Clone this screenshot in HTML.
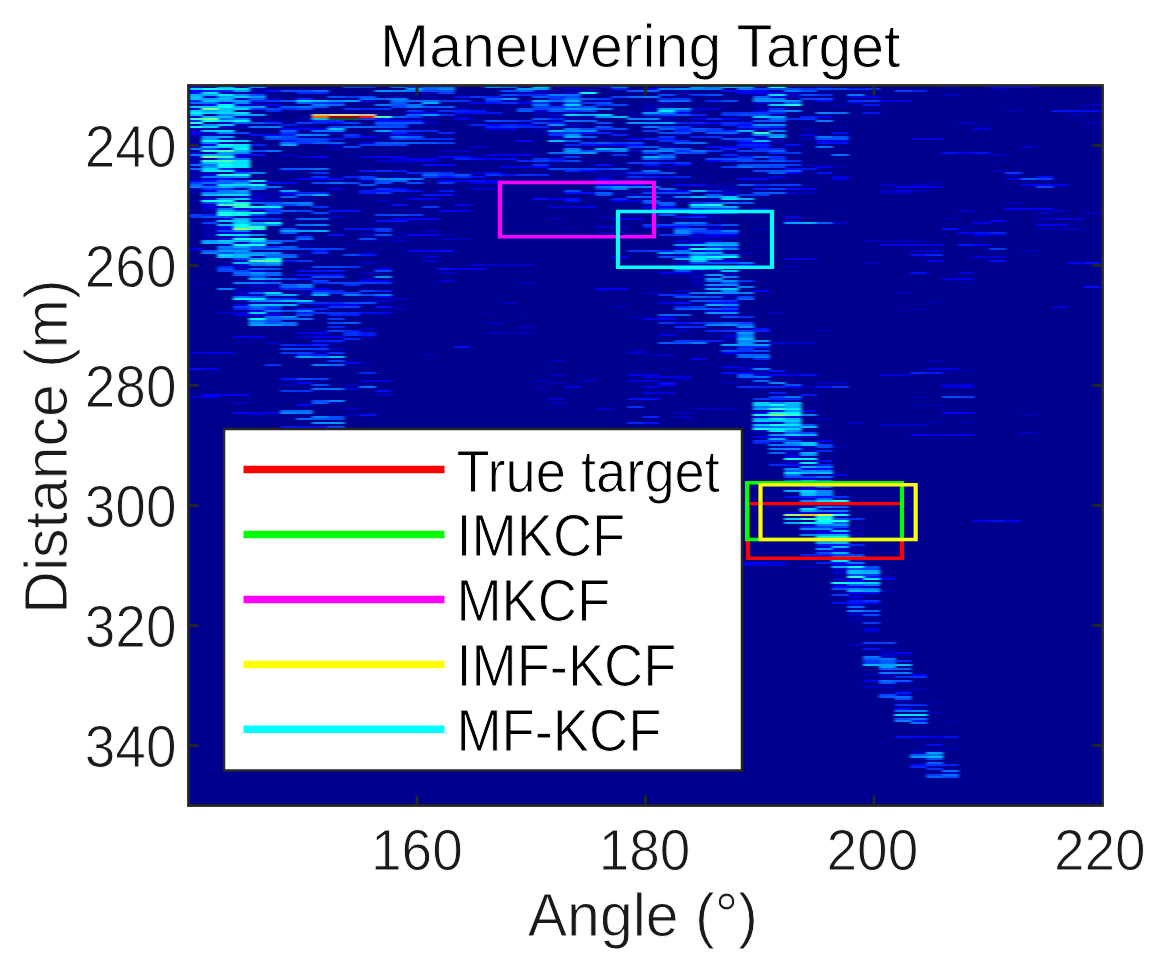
<!DOCTYPE html>
<html><head><meta charset="utf-8"><title>Maneuvering Target</title>
<style>html,body{margin:0;padding:0;background:#fff;width:1164px;height:970px;overflow:hidden}svg{display:block}</style></head>
<body>
<svg width="1164" height="970" viewBox="0 0 1164 970" font-family="Liberation Sans">
<rect width="1164" height="970" fill="#fff"/>
<defs><filter id="bl" x="0" y="0" width="1" height="1" filterUnits="objectBoundingBox"><feGaussianBlur stdDeviation="1.5 0.7"/></filter></defs>
<rect x="188.5" y="85.5" width="914" height="720" fill="rgb(0,0,143)"/>
<g filter="url(#bl)">
<rect x="188.5" y="85.5" width="914" height="720" fill="rgb(0,0,143)"/>
<path fill="rgb(0,16,255)" d="M190.0 86h12.2v2h-12.2zM722.0 90h15.8v2h-15.8zM454.2 96h15.8v2h-15.8zM485.7 102h15.8v2h-15.8zM1068.5 110h15.8v2h-15.8zM469.9 112h15.8v2h-15.8zM375.4 120h15.8v2h-15.8zM328.2 122h15.8v2h-15.8zM517.2 124h15.8v2h-15.8zM832.2 132h15.8v2h-15.8zM249.4 134h15.8v2h-15.8zM580.2 144h15.8v2h-15.8zM627.5 144h15.8v2h-15.8zM737.7 146h31.5v2h-31.5zM454.2 156h15.8v2h-15.8zM501.4 158h15.8v2h-15.8zM548.7 158h15.8v2h-15.8zM422.7 164h15.8v2h-15.8zM501.4 174h15.8v2h-15.8zM1037.0 176h15.8v2h-15.8zM328.2 178h15.8v2h-15.8zM469.9 180h15.8v2h-15.8zM391.2 188h15.8v2h-15.8zM785.0 188h15.8v2h-15.8zM406.9 190h15.8v2h-15.8zM280.9 192h15.8v2h-15.8zM533.0 198h15.8v2h-15.8zM564.5 198h15.8v2h-15.8zM391.2 204h15.8v2h-15.8zM328.2 210h31.5v2h-31.5zM674.7 216h15.8v2h-15.8zM375.4 220h15.8v2h-15.8zM343.9 228h31.5v2h-31.5zM942.5 228h15.8v2h-15.8zM974.0 232h15.8v2h-15.8zM312.4 250h15.8v2h-15.8zM911.0 254h15.8v2h-15.8zM643.2 266h15.8v2h-15.8zM296.7 270h31.5v2h-31.5zM312.4 274h31.5v2h-31.5zM1084.2 286h15.8v2h-15.8zM706.2 302h31.5v2h-31.5zM375.4 306h15.8v2h-15.8zM722.0 306h15.8v2h-15.8zM674.7 322h15.8v2h-15.8zM753.5 328h15.8v2h-15.8zM296.7 344h15.8v2h-15.8zM454.2 346h15.8v2h-15.8zM816.5 386h15.8v2h-15.8zM375.4 390h15.8v2h-15.8zM627.5 398h31.5v2h-31.5zM769.2 410h15.8v2h-15.8zM359.7 414h15.8v2h-15.8zM785.0 416h15.8v2h-15.8zM296.7 426h31.5v2h-31.5zM312.4 444h15.8v2h-15.8zM816.5 460h15.8v2h-15.8zM832.2 602h15.8v2h-15.8zM895.2 708h15.8v2h-15.8zM942.5 736h15.8v2h-15.8zM911.0 764h15.8v2h-15.8z"/>
<path fill="rgb(0,0,168)" d="M202.2 86h15.8v2h-15.8zM580.2 86h15.8v2h-15.8zM753.5 86h15.8v2h-15.8zM580.2 90h15.8v2h-15.8zM233.7 92h15.8v2h-15.8zM533.0 92h15.8v2h-15.8zM580.2 94h15.8v2h-15.8zM753.5 94h15.8v2h-15.8zM391.2 96h15.8v2h-15.8zM422.7 96h15.8v2h-15.8zM501.4 100h15.8v2h-15.8zM643.2 106h15.8v2h-15.8zM422.7 110h15.8v2h-15.8zM533.0 112h15.8v2h-15.8zM202.2 114h15.8v2h-15.8zM249.4 116h15.8v2h-15.8zM454.2 116h15.8v2h-15.8zM533.0 116h15.8v2h-15.8zM580.2 116h15.8v2h-15.8zM737.7 116h15.8v2h-15.8zM391.2 118h15.8v2h-15.8zM564.5 118h15.8v2h-15.8zM737.7 118h15.8v2h-15.8zM296.7 120h15.8v2h-15.8zM643.2 120h15.8v2h-15.8zM406.9 124h15.8v2h-15.8zM233.7 126h15.8v2h-15.8zM974.0 126h15.8v2h-15.8zM202.2 128h15.8v2h-15.8zM533.0 128h15.8v2h-15.8zM800.7 128h15.8v2h-15.8zM296.7 132h15.8v2h-15.8zM533.0 132h15.8v2h-15.8zM375.4 134h15.8v2h-15.8zM722.0 134h15.8v2h-15.8zM375.4 136h15.8v2h-15.8zM190.0 138h12.2v2h-12.2zM564.5 138h15.8v2h-15.8zM769.2 138h15.8v2h-15.8zM202.2 152h15.8v2h-15.8zM659.0 152h15.8v2h-15.8zM190.0 158h12.2v2h-12.2zM643.2 166h15.8v2h-15.8zM832.2 166h15.8v2h-15.8zM627.5 170h15.8v2h-15.8zM190.0 172h12.2v2h-12.2zM596.0 174h15.8v2h-15.8zM190.0 176h12.2v2h-12.2zM926.7 182h15.8v2h-15.8zM706.2 184h15.8v2h-15.8zM706.2 186h15.8v2h-15.8zM190.0 188h12.2v2h-12.2zM190.0 192h12.2v2h-12.2zM265.2 192h15.8v2h-15.8zM296.7 198h15.8v2h-15.8zM643.2 198h31.5v2h-31.5zM706.2 198h15.8v2h-15.8zM190.0 200h12.2v2h-12.2zM296.7 200h15.8v2h-15.8zM674.7 200h15.8v2h-15.8zM706.2 200h15.8v2h-15.8zM249.4 210h15.8v2h-15.8zM233.7 216h15.8v2h-15.8zM596.0 216h15.8v2h-15.8zM706.2 216h15.8v2h-15.8zM202.2 220h15.8v2h-15.8zM690.5 220h15.8v2h-15.8zM958.2 226h15.8v2h-15.8zM296.7 228h15.8v2h-15.8zM564.5 228h15.8v2h-15.8zM722.0 228h15.8v2h-15.8zM438.4 234h15.8v2h-15.8zM690.5 234h15.8v2h-15.8zM202.2 236h15.8v2h-15.8zM722.0 236h15.8v2h-15.8zM296.7 240h15.8v2h-15.8zM359.7 240h15.8v2h-15.8zM296.7 254h15.8v2h-15.8zM722.0 258h15.8v2h-15.8zM217.9 264h15.8v2h-15.8zM706.2 270h15.8v2h-15.8zM690.5 274h15.8v2h-15.8zM722.0 274h15.8v2h-15.8zM690.5 282h15.8v2h-15.8zM190.0 284h12.2v2h-12.2zM233.7 284h15.8v2h-15.8zM690.5 284h15.8v2h-15.8zM722.0 286h15.8v2h-15.8zM233.7 290h15.8v2h-15.8zM296.7 290h15.8v2h-15.8zM706.2 290h15.8v2h-15.8zM296.7 294h15.8v2h-15.8zM706.2 298h31.5v2h-31.5zM926.7 302h15.8v2h-15.8zM280.9 306h15.8v2h-15.8zM249.4 316h15.8v2h-15.8zM328.2 342h15.8v2h-15.8zM753.5 348h15.8v2h-15.8zM312.4 350h15.8v2h-15.8zM359.7 362h15.8v2h-15.8zM737.7 362h15.8v2h-15.8zM533.0 386h15.8v2h-15.8zM911.0 404h15.8v2h-15.8zM926.7 422h15.8v2h-15.8zM958.2 422h15.8v2h-15.8zM769.2 446h15.8v2h-15.8zM832.2 446h15.8v2h-15.8zM785.0 452h15.8v2h-15.8zM800.7 484h31.5v2h-31.5zM832.2 504h15.8v2h-15.8zM832.2 508h15.8v2h-15.8zM800.7 516h15.8v2h-15.8zM832.2 516h15.8v2h-15.8zM848.0 528h15.8v2h-15.8zM848.0 532h15.8v2h-15.8zM848.0 546h15.8v2h-15.8zM848.0 594h15.8v2h-15.8zM848.0 618h15.8v2h-15.8zM848.0 620h15.8v2h-15.8zM895.2 700h15.8v2h-15.8zM942.5 748h15.8v2h-15.8zM926.7 766h15.8v2h-15.8z"/>
<path fill="rgb(0,176,255)" d="M217.9 86h15.8v2h-15.8zM190.0 94h12.2v2h-12.2zM533.0 100h15.8v2h-15.8zM422.7 102h15.8v2h-15.8zM233.7 114h15.8v2h-15.8zM659.0 122h15.8v2h-15.8zM217.9 136h15.8v2h-15.8zM233.7 150h15.8v2h-15.8zM202.2 154h15.8v2h-15.8zM643.2 156h15.8v2h-15.8zM217.9 186h15.8v2h-15.8zM690.5 190h15.8v2h-15.8zM312.4 194h15.8v2h-15.8zM737.7 198h15.8v2h-15.8zM722.0 206h15.8v2h-15.8zM233.7 218h15.8v2h-15.8zM249.4 222h15.8v2h-15.8zM800.7 222h15.8v2h-15.8zM312.4 230h15.8v2h-15.8zM233.7 240h15.8v2h-15.8zM217.9 242h15.8v2h-15.8zM722.0 244h15.8v2h-15.8zM706.2 252h15.8v2h-15.8zM674.7 258h15.8v2h-15.8zM706.2 258h15.8v2h-15.8zM722.0 266h15.8v2h-15.8zM674.7 268h31.5v2h-31.5zM249.4 278h15.8v2h-15.8zM706.2 288h15.8v2h-15.8zM280.9 294h15.8v2h-15.8zM312.4 294h15.8v2h-15.8zM706.2 304h15.8v2h-15.8zM785.0 404h15.8v2h-15.8zM785.0 406h15.8v2h-15.8zM753.5 418h15.8v2h-15.8zM785.0 418h15.8v2h-15.8zM800.7 434h15.8v2h-15.8zM769.2 438h15.8v2h-15.8zM800.7 452h15.8v2h-15.8zM800.7 466h15.8v2h-15.8zM800.7 472h15.8v2h-15.8zM800.7 480h15.8v2h-15.8zM785.0 490h15.8v2h-15.8zM785.0 522h15.8v2h-15.8zM816.5 534h31.5v2h-31.5zM832.2 540h15.8v2h-15.8zM816.5 542h15.8v2h-15.8zM832.2 566h15.8v2h-15.8z"/>
<path fill="rgb(0,0,192)" d="M233.7 86h15.8v2h-15.8zM548.7 86h15.8v2h-15.8zM942.5 86h15.8v2h-15.8zM249.4 88h15.8v2h-15.8zM785.0 94h15.8v2h-15.8zM942.5 94h15.8v2h-15.8zM249.4 104h15.8v2h-15.8zM1084.2 104h15.8v2h-15.8zM564.5 112h15.8v2h-15.8zM659.0 116h15.8v2h-15.8zM265.2 120h15.8v2h-15.8zM422.7 122h15.8v2h-15.8zM1084.2 122h15.8v2h-15.8zM564.5 124h15.8v2h-15.8zM690.5 124h15.8v2h-15.8zM800.7 138h15.8v2h-15.8zM190.0 146h12.2v2h-12.2zM627.5 150h15.8v2h-15.8zM989.7 154h15.8v2h-15.8zM190.0 156h12.2v2h-12.2zM190.0 162h12.2v2h-12.2zM659.0 166h15.8v2h-15.8zM249.4 182h15.8v2h-15.8zM911.0 184h15.8v2h-15.8zM879.5 190h15.8v2h-15.8zM911.0 190h15.8v2h-15.8zM800.7 192h15.8v2h-15.8zM879.5 192h15.8v2h-15.8zM249.4 196h15.8v2h-15.8zM375.4 200h15.8v2h-15.8zM643.2 208h15.8v2h-15.8zM1037.0 212h15.8v2h-15.8zM690.5 214h15.8v2h-15.8zM328.2 216h15.8v2h-15.8zM1037.0 218h15.8v2h-15.8zM706.2 228h15.8v2h-15.8zM1068.5 228h15.8v2h-15.8zM596.0 232h15.8v2h-15.8zM564.5 234h15.8v2h-15.8zM627.5 234h15.8v2h-15.8zM989.7 234h15.8v2h-15.8zM438.4 238h31.5v2h-31.5zM391.2 240h15.8v2h-15.8zM863.7 240h15.8v2h-15.8zM895.2 240h15.8v2h-15.8zM217.9 244h15.8v2h-15.8zM911.0 250h15.8v2h-15.8zM1021.2 250h15.8v2h-15.8zM863.7 262h15.8v2h-15.8zM501.4 264h15.8v2h-15.8zM674.7 264h15.8v2h-15.8zM359.7 272h15.8v2h-15.8zM690.5 276h15.8v2h-15.8zM359.7 278h15.8v2h-15.8zM517.2 282h15.8v2h-15.8zM249.4 290h15.8v2h-15.8zM674.7 290h15.8v2h-15.8zM233.7 292h15.8v2h-15.8zM643.2 292h15.8v2h-15.8zM233.7 294h31.5v2h-31.5zM391.2 298h15.8v2h-15.8zM233.7 300h15.8v2h-15.8zM359.7 300h15.8v2h-15.8zM249.4 302h15.8v2h-15.8zM265.2 312h15.8v2h-15.8zM659.0 316h15.8v2h-15.8zM485.7 322h15.8v2h-15.8zM674.7 330h15.8v2h-15.8zM517.2 332h15.8v2h-15.8zM722.0 334h15.8v2h-15.8zM737.7 368h15.8v2h-15.8zM674.7 378h15.8v2h-15.8zM533.0 380h15.8v2h-15.8zM580.2 380h15.8v2h-15.8zM816.5 382h15.8v2h-15.8zM343.9 384h15.8v2h-15.8zM233.7 402h15.8v2h-15.8zM548.7 402h15.8v2h-15.8zM343.9 408h15.8v2h-15.8zM722.0 408h15.8v2h-15.8zM674.7 412h15.8v2h-15.8zM249.4 414h15.8v2h-15.8zM674.7 416h15.8v2h-15.8zM816.5 418h15.8v2h-15.8zM753.5 430h15.8v2h-15.8zM1021.2 432h15.8v2h-15.8zM627.5 438h15.8v2h-15.8zM596.0 440h15.8v2h-15.8zM800.7 440h15.8v2h-15.8zM659.0 446h15.8v2h-15.8zM800.7 446h15.8v2h-15.8zM785.0 450h15.8v2h-15.8zM848.0 560h15.8v2h-15.8zM832.2 580h15.8v2h-15.8zM832.2 584h15.8v2h-15.8zM848.0 614h15.8v2h-15.8zM848.0 644h15.8v2h-15.8zM879.5 656h15.8v2h-15.8zM895.2 682h15.8v2h-15.8zM863.7 686h31.5v2h-31.5zM895.2 694h15.8v2h-15.8z"/>
<path fill="rgb(0,144,255)" d="M249.4 86h15.8v2h-15.8zM674.7 88h15.8v2h-15.8zM375.4 90h15.8v2h-15.8zM233.7 94h15.8v2h-15.8zM328.2 100h15.8v2h-15.8zM753.5 100h15.8v2h-15.8zM785.0 100h15.8v2h-15.8zM580.2 108h15.8v2h-15.8zM233.7 118h15.8v2h-15.8zM548.7 124h15.8v2h-15.8zM580.2 130h15.8v2h-15.8zM296.7 134h15.8v2h-15.8zM564.5 134h15.8v2h-15.8zM769.2 134h15.8v2h-15.8zM202.2 136h15.8v2h-15.8zM233.7 152h15.8v2h-15.8zM375.4 178h31.5v2h-31.5zM611.7 186h15.8v2h-15.8zM233.7 192h15.8v2h-15.8zM249.4 224h15.8v2h-15.8zM249.4 234h15.8v2h-15.8zM706.2 242h31.5v2h-31.5zM249.4 252h31.5v2h-31.5zM722.0 254h15.8v2h-15.8zM375.4 276h15.8v2h-15.8zM265.2 278h15.8v2h-15.8zM722.0 280h15.8v2h-15.8zM706.2 284h15.8v2h-15.8zM265.2 300h15.8v2h-15.8zM722.0 304h15.8v2h-15.8zM280.9 316h15.8v2h-15.8zM249.4 322h15.8v2h-15.8zM722.0 324h15.8v2h-15.8zM737.7 326h15.8v2h-15.8zM753.5 340h15.8v2h-15.8zM737.7 342h15.8v2h-15.8zM769.2 406h15.8v2h-15.8zM312.4 422h15.8v2h-15.8zM785.0 430h15.8v2h-15.8zM769.2 434h15.8v2h-15.8zM785.0 442h15.8v2h-15.8zM800.7 454h15.8v2h-15.8zM785.0 468h15.8v2h-15.8zM800.7 500h15.8v2h-15.8zM800.7 528h15.8v2h-15.8z"/>
<path fill="rgb(0,72,255)" d="M343.9 86h15.8v2h-15.8zM832.2 88h15.8v2h-15.8zM422.7 90h15.8v2h-15.8zM249.4 94h15.8v2h-15.8zM501.4 94h15.8v2h-15.8zM659.0 94h15.8v2h-15.8zM816.5 98h15.8v2h-15.8zM722.0 100h15.8v2h-15.8zM611.7 104h15.8v2h-15.8zM564.5 106h15.8v2h-15.8zM265.2 108h15.8v2h-15.8zM517.2 108h15.8v2h-15.8zM580.2 110h15.8v2h-15.8zM674.7 110h15.8v2h-15.8zM596.0 122h15.8v2h-15.8zM391.2 126h15.8v2h-15.8zM580.2 128h15.8v2h-15.8zM611.7 128h15.8v2h-15.8zM690.5 130h15.8v2h-15.8zM233.7 132h15.8v2h-15.8zM627.5 142h15.8v2h-15.8zM375.4 144h15.8v2h-15.8zM343.9 146h15.8v2h-15.8zM690.5 152h15.8v2h-15.8zM706.2 158h15.8v2h-15.8zM737.7 158h15.8v2h-15.8zM564.5 160h15.8v2h-15.8zM564.5 168h15.8v2h-15.8zM753.5 170h15.8v2h-15.8zM375.4 180h15.8v2h-15.8zM312.4 182h15.8v2h-15.8zM343.9 182h15.8v2h-15.8zM1037.0 186h15.8v2h-15.8zM564.5 190h15.8v2h-15.8zM659.0 192h15.8v2h-15.8zM312.4 212h15.8v2h-15.8zM217.9 216h15.8v2h-15.8zM659.0 224h15.8v2h-15.8zM280.9 228h15.8v2h-15.8zM690.5 230h15.8v2h-15.8zM722.0 232h15.8v2h-15.8zM312.4 248h15.8v2h-15.8zM343.9 254h15.8v2h-15.8zM312.4 266h31.5v2h-31.5zM217.9 270h31.5v2h-31.5zM674.7 270h15.8v2h-15.8zM328.2 276h15.8v2h-15.8zM690.5 300h31.5v2h-31.5zM343.9 302h15.8v2h-15.8zM722.0 316h15.8v2h-15.8zM328.2 322h15.8v2h-15.8zM280.9 348h31.5v2h-31.5zM296.7 378h15.8v2h-15.8zM312.4 384h15.8v2h-15.8zM942.5 396h15.8v2h-15.8zM328.2 418h15.8v2h-15.8zM800.7 432h15.8v2h-15.8zM328.2 436h15.8v2h-15.8zM816.5 446h15.8v2h-15.8zM785.0 476h15.8v2h-15.8zM785.0 482h15.8v2h-15.8zM832.2 526h15.8v2h-15.8zM848.0 568h31.5v2h-31.5zM848.0 574h15.8v2h-15.8zM863.7 614h15.8v2h-15.8zM879.5 694h15.8v2h-15.8z"/>
<path fill="rgb(0,56,255)" d="M359.7 86h15.8v2h-15.8zM343.9 96h15.8v2h-15.8zM596.0 98h15.8v2h-15.8zM265.2 100h15.8v2h-15.8zM438.4 100h15.8v2h-15.8zM863.7 100h15.8v2h-15.8zM580.2 102h15.8v2h-15.8zM548.7 106h15.8v2h-15.8zM406.9 110h15.8v2h-15.8zM737.7 112h31.5v2h-31.5zM659.0 114h15.8v2h-15.8zM722.0 114h15.8v2h-15.8zM406.9 116h15.8v2h-15.8zM674.7 126h15.8v2h-15.8zM564.5 132h15.8v2h-15.8zM343.9 134h15.8v2h-15.8zM659.0 136h15.8v2h-15.8zM406.9 138h15.8v2h-15.8zM359.7 144h15.8v2h-15.8zM706.2 150h15.8v2h-15.8zM753.5 150h15.8v2h-15.8zM785.0 152h15.8v2h-15.8zM564.5 156h15.8v2h-15.8zM659.0 158h15.8v2h-15.8zM753.5 160h15.8v2h-15.8zM627.5 162h15.8v2h-15.8zM674.7 162h15.8v2h-15.8zM785.0 164h15.8v2h-15.8zM596.0 168h15.8v2h-15.8zM312.4 172h15.8v2h-15.8zM1005.5 172h15.8v2h-15.8zM438.4 174h15.8v2h-15.8zM359.7 178h15.8v2h-15.8zM438.4 182h15.8v2h-15.8zM769.2 184h15.8v2h-15.8zM596.0 188h15.8v2h-15.8zM375.4 192h15.8v2h-15.8zM737.7 194h31.5v2h-31.5zM690.5 202h15.8v2h-15.8zM422.7 206h15.8v2h-15.8zM265.2 210h15.8v2h-15.8zM406.9 214h15.8v2h-15.8zM190.0 216h12.2v2h-12.2zM249.4 218h15.8v2h-15.8zM643.2 224h15.8v2h-15.8zM674.7 224h15.8v2h-15.8zM375.4 230h15.8v2h-15.8zM706.2 230h15.8v2h-15.8zM706.2 246h15.8v2h-15.8zM989.7 248h15.8v2h-15.8zM643.2 250h15.8v2h-15.8zM296.7 260h15.8v2h-15.8zM343.9 266h15.8v2h-15.8zM375.4 282h15.8v2h-15.8zM328.2 292h31.5v2h-31.5zM296.7 302h15.8v2h-15.8zM690.5 306h15.8v2h-15.8zM328.2 318h15.8v2h-15.8zM722.0 330h15.8v2h-15.8zM674.7 340h15.8v2h-15.8zM737.7 348h15.8v2h-15.8zM737.7 350h15.8v2h-15.8zM280.9 352h15.8v2h-15.8zM832.2 386h15.8v2h-15.8zM280.9 390h15.8v2h-15.8zM753.5 398h15.8v2h-15.8zM312.4 436h15.8v2h-15.8zM753.5 440h31.5v2h-31.5zM863.7 574h15.8v2h-15.8zM832.2 594h15.8v2h-15.8zM863.7 600h15.8v2h-15.8zM863.7 622h15.8v2h-15.8zM863.7 642h15.8v2h-15.8zM863.7 660h15.8v2h-15.8zM863.7 662h15.8v2h-15.8z"/>
<path fill="rgb(0,112,255)" d="M391.2 86h15.8v2h-15.8zM438.4 86h15.8v2h-15.8zM501.4 86h15.8v2h-15.8zM312.4 90h15.8v2h-15.8zM406.9 90h15.8v2h-15.8zM564.5 94h15.8v2h-15.8zM564.5 98h15.8v2h-15.8zM391.2 100h15.8v2h-15.8zM422.7 100h15.8v2h-15.8zM548.7 100h15.8v2h-15.8zM659.0 100h15.8v2h-15.8zM190.0 102h27.9v2h-27.9zM406.9 104h15.8v2h-15.8zM296.7 106h15.8v2h-15.8zM832.2 112h15.8v2h-15.8zM217.9 118h15.8v2h-15.8zM769.2 118h15.8v2h-15.8zM564.5 120h15.8v2h-15.8zM280.9 142h15.8v2h-15.8zM690.5 142h15.8v2h-15.8zM816.5 146h15.8v2h-15.8zM190.0 148h12.2v2h-12.2zM659.0 148h15.8v2h-15.8zM265.2 150h15.8v2h-15.8zM690.5 150h15.8v2h-15.8zM548.7 152h15.8v2h-15.8zM832.2 154h15.8v2h-15.8zM217.9 158h15.8v2h-15.8zM190.0 164h27.9v2h-27.9zM737.7 166h15.8v2h-15.8zM190.0 168h12.2v2h-12.2zM312.4 168h15.8v2h-15.8zM643.2 170h15.8v2h-15.8zM202.2 182h15.8v2h-15.8zM328.2 182h15.8v2h-15.8zM202.2 186h15.8v2h-15.8zM265.2 186h15.8v2h-15.8zM596.0 186h15.8v2h-15.8zM659.0 188h15.8v2h-15.8zM296.7 194h15.8v2h-15.8zM296.7 204h15.8v2h-15.8zM217.9 208h15.8v2h-15.8zM233.7 210h15.8v2h-15.8zM690.5 212h15.8v2h-15.8zM690.5 222h15.8v2h-15.8zM296.7 224h15.8v2h-15.8zM249.4 242h15.8v2h-15.8zM233.7 248h15.8v2h-15.8zM674.7 250h15.8v2h-15.8zM265.2 254h15.8v2h-15.8zM280.9 256h15.8v2h-15.8zM737.7 262h15.8v2h-15.8zM249.4 264h15.8v2h-15.8zM249.4 274h15.8v2h-15.8zM706.2 280h15.8v2h-15.8zM312.4 292h15.8v2h-15.8zM690.5 292h15.8v2h-15.8zM233.7 296h15.8v2h-15.8zM265.2 316h15.8v2h-15.8zM296.7 318h15.8v2h-15.8zM249.4 320h15.8v2h-15.8zM280.9 322h15.8v2h-15.8zM280.9 324h15.8v2h-15.8zM753.5 376h15.8v2h-15.8zM359.7 386h15.8v2h-15.8zM312.4 388h31.5v2h-31.5zM753.5 426h15.8v2h-15.8zM785.0 474h15.8v2h-15.8zM816.5 476h15.8v2h-15.8zM848.0 538h15.8v2h-15.8zM863.7 584h15.8v2h-15.8zM879.5 680h15.8v2h-15.8zM895.2 696h15.8v2h-15.8zM895.2 710h15.8v2h-15.8zM911.0 718h15.8v2h-15.8zM911.0 722h15.8v2h-15.8zM926.7 754h15.8v2h-15.8zM942.5 770h15.8v2h-15.8zM942.5 774h15.8v2h-15.8z"/>
<path fill="rgb(0,40,255)" d="M406.9 86h15.8v2h-15.8zM296.7 92h15.8v2h-15.8zM517.2 94h31.5v2h-31.5zM659.0 98h15.8v2h-15.8zM706.2 100h15.8v2h-15.8zM328.2 102h15.8v2h-15.8zM280.9 108h15.8v2h-15.8zM769.2 108h15.8v2h-15.8zM265.2 110h15.8v2h-15.8zM769.2 112h15.8v2h-15.8zM548.7 118h15.8v2h-15.8zM706.2 118h15.8v2h-15.8zM190.0 120h12.2v2h-12.2zM312.4 120h15.8v2h-15.8zM517.2 120h15.8v2h-15.8zM469.9 124h15.8v2h-15.8zM485.7 126h15.8v2h-15.8zM517.2 126h31.5v2h-31.5zM737.7 126h15.8v2h-15.8zM769.2 126h15.8v2h-15.8zM674.7 128h15.8v2h-15.8zM422.7 130h15.8v2h-15.8zM722.0 130h15.8v2h-15.8zM391.2 132h15.8v2h-15.8zM438.4 132h15.8v2h-15.8zM548.7 132h15.8v2h-15.8zM343.9 136h15.8v2h-15.8zM422.7 138h31.5v2h-31.5zM674.7 140h15.8v2h-15.8zM737.7 140h15.8v2h-15.8zM564.5 144h15.8v2h-15.8zM769.2 148h15.8v2h-15.8zM769.2 152h15.8v2h-15.8zM517.2 160h15.8v2h-15.8zM564.5 170h15.8v2h-15.8zM406.9 172h15.8v2h-15.8zM533.0 174h15.8v2h-15.8zM611.7 180h15.8v2h-15.8zM753.5 184h15.8v2h-15.8zM296.7 192h31.5v2h-31.5zM659.0 210h15.8v2h-15.8zM706.2 224h15.8v2h-15.8zM690.5 232h15.8v2h-15.8zM233.7 236h15.8v2h-15.8zM265.2 246h15.8v2h-15.8zM706.2 250h15.8v2h-15.8zM926.7 254h15.8v2h-15.8zM217.9 266h15.8v2h-15.8zM690.5 266h15.8v2h-15.8zM312.4 282h15.8v2h-15.8zM312.4 290h31.5v2h-31.5zM265.2 308h15.8v2h-15.8zM343.9 312h15.8v2h-15.8zM690.5 322h15.8v2h-15.8zM328.2 326h15.8v2h-15.8zM690.5 326h15.8v2h-15.8zM706.2 330h15.8v2h-15.8zM343.9 338h15.8v2h-15.8zM312.4 340h31.5v2h-31.5zM690.5 340h15.8v2h-15.8zM280.9 344h15.8v2h-15.8zM737.7 346h15.8v2h-15.8zM753.5 358h15.8v2h-15.8zM359.7 372h15.8v2h-15.8zM911.0 372h15.8v2h-15.8zM769.2 386h15.8v2h-15.8zM769.2 398h31.5v2h-31.5zM643.2 416h15.8v2h-15.8zM627.5 422h15.8v2h-15.8zM296.7 430h15.8v2h-15.8zM769.2 464h15.8v2h-15.8zM816.5 464h15.8v2h-15.8zM800.7 526h15.8v2h-15.8zM848.0 544h15.8v2h-15.8zM895.2 660h15.8v2h-15.8zM911.0 766h15.8v2h-15.8z"/>
<path fill="rgb(0,88,255)" d="M422.7 86h15.8v2h-15.8zM627.5 90h15.8v2h-15.8zM533.0 96h15.8v2h-15.8zM485.7 98h15.8v2h-15.8zM580.2 98h15.8v2h-15.8zM280.9 100h15.8v2h-15.8zM391.2 102h15.8v2h-15.8zM280.9 106h15.8v2h-15.8zM580.2 106h15.8v2h-15.8zM517.2 110h15.8v2h-15.8zM548.7 110h15.8v2h-15.8zM674.7 114h15.8v2h-15.8zM533.0 118h15.8v2h-15.8zM753.5 120h15.8v2h-15.8zM249.4 122h15.8v2h-15.8zM391.2 122h15.8v2h-15.8zM375.4 126h15.8v2h-15.8zM690.5 128h15.8v2h-15.8zM706.2 132h15.8v2h-15.8zM832.2 138h15.8v2h-15.8zM564.5 140h15.8v2h-15.8zM312.4 142h15.8v2h-15.8zM375.4 142h15.8v2h-15.8zM422.7 142h15.8v2h-15.8zM596.0 142h15.8v2h-15.8zM643.2 146h15.8v2h-15.8zM674.7 152h15.8v2h-15.8zM769.2 160h15.8v2h-15.8zM280.9 168h15.8v2h-15.8zM611.7 168h15.8v2h-15.8zM233.7 172h15.8v2h-15.8zM659.0 172h15.8v2h-15.8zM454.2 174h15.8v2h-15.8zM1021.2 178h15.8v2h-15.8zM233.7 180h15.8v2h-15.8zM359.7 184h15.8v2h-15.8zM737.7 184h15.8v2h-15.8zM753.5 192h15.8v2h-15.8zM706.2 194h15.8v2h-15.8zM643.2 196h15.8v2h-15.8zM659.0 204h15.8v2h-15.8zM280.9 210h15.8v2h-15.8zM265.2 212h15.8v2h-15.8zM674.7 228h31.5v2h-31.5zM280.9 232h15.8v2h-15.8zM249.4 246h15.8v2h-15.8zM249.4 248h15.8v2h-15.8zM280.9 248h15.8v2h-15.8zM202.2 250h15.8v2h-15.8zM280.9 254h15.8v2h-15.8zM706.2 254h15.8v2h-15.8zM233.7 274h15.8v2h-15.8zM249.4 308h15.8v2h-15.8zM674.7 308h15.8v2h-15.8zM722.0 322h15.8v2h-15.8zM659.0 342h15.8v2h-15.8zM753.5 354h15.8v2h-15.8zM737.7 374h15.8v2h-15.8zM312.4 402h15.8v2h-15.8zM312.4 418h15.8v2h-15.8zM785.0 470h15.8v2h-15.8zM848.0 584h15.8v2h-15.8zM879.5 660h15.8v2h-15.8zM879.5 668h15.8v2h-15.8zM895.2 680h15.8v2h-15.8zM879.5 696h15.8v2h-15.8zM911.0 754h15.8v2h-15.8z"/>
<path fill="rgb(0,152,255)" d="M485.7 86h15.8v2h-15.8zM690.5 86h15.8v2h-15.8zM249.4 96h15.8v2h-15.8zM501.4 98h15.8v2h-15.8zM769.2 100h15.8v2h-15.8zM564.5 108h15.8v2h-15.8zM627.5 122h31.5v2h-31.5zM753.5 124h31.5v2h-31.5zM202.2 138h15.8v2h-15.8zM611.7 148h15.8v2h-15.8zM564.5 150h15.8v2h-15.8zM202.2 166h15.8v2h-15.8zM233.7 176h15.8v2h-15.8zM233.7 182h15.8v2h-15.8zM233.7 190h15.8v2h-15.8zM706.2 206h15.8v2h-15.8zM202.2 240h15.8v2h-15.8zM233.7 250h15.8v2h-15.8zM249.4 272h15.8v2h-15.8zM706.2 312h31.5v2h-31.5zM265.2 324h15.8v2h-15.8zM737.7 344h15.8v2h-15.8zM328.2 422h15.8v2h-15.8zM312.4 430h31.5v2h-31.5zM832.2 524h15.8v2h-15.8zM816.5 548h15.8v2h-15.8zM832.2 556h15.8v2h-15.8zM911.0 756h15.8v2h-15.8z"/>
<path fill="rgb(0,192,255)" d="M533.0 86h15.8v2h-15.8zM190.0 96h12.2v2h-12.2zM190.0 98h12.2v2h-12.2zM202.2 100h15.8v2h-15.8zM312.4 100h15.8v2h-15.8zM217.9 108h15.8v2h-15.8zM190.0 114h12.2v2h-12.2zM328.2 128h15.8v2h-15.8zM548.7 140h15.8v2h-15.8zM753.5 140h15.8v2h-15.8zM202.2 146h15.8v2h-15.8zM202.2 162h15.8v2h-15.8zM690.5 196h15.8v2h-15.8zM217.9 224h15.8v2h-15.8zM690.5 252h15.8v2h-15.8zM217.9 256h15.8v2h-15.8zM233.7 262h15.8v2h-15.8zM280.9 300h15.8v2h-15.8zM249.4 304h15.8v2h-15.8zM785.0 402h15.8v2h-15.8zM769.2 420h15.8v2h-15.8zM800.7 426h15.8v2h-15.8zM816.5 472h15.8v2h-15.8zM832.2 546h15.8v2h-15.8zM848.0 570h15.8v2h-15.8zM848.0 572h15.8v2h-15.8zM863.7 664h15.8v2h-15.8zM895.2 664h15.8v2h-15.8z"/>
<path fill="rgb(0,0,184)" d="M564.5 86h15.8v2h-15.8zM785.0 86h15.8v2h-15.8zM989.7 88h15.8v2h-15.8zM217.9 92h15.8v2h-15.8zM785.0 92h15.8v2h-15.8zM785.0 96h15.8v2h-15.8zM659.0 102h15.8v2h-15.8zM769.2 102h15.8v2h-15.8zM454.2 108h15.8v2h-15.8zM643.2 108h15.8v2h-15.8zM1005.5 110h15.8v2h-15.8zM1068.5 114h15.8v2h-15.8zM548.7 120h15.8v2h-15.8zM202.2 134h15.8v2h-15.8zM548.7 136h15.8v2h-15.8zM328.2 144h15.8v2h-15.8zM328.2 148h15.8v2h-15.8zM438.4 150h15.8v2h-15.8zM280.9 154h15.8v2h-15.8zM280.9 170h15.8v2h-15.8zM989.7 170h15.8v2h-15.8zM359.7 180h15.8v2h-15.8zM722.0 186h15.8v2h-15.8zM895.2 192h15.8v2h-15.8zM249.4 194h15.8v2h-15.8zM722.0 194h15.8v2h-15.8zM233.7 200h31.5v2h-31.5zM1005.5 202h15.8v2h-15.8zM1084.2 212h15.8v2h-15.8zM249.4 216h15.8v2h-15.8zM202.2 226h15.8v2h-15.8zM249.4 230h15.8v2h-15.8zM611.7 232h15.8v2h-15.8zM391.2 236h15.8v2h-15.8zM690.5 238h15.8v2h-15.8zM359.7 252h15.8v2h-15.8zM737.7 252h15.8v2h-15.8zM674.7 262h15.8v2h-15.8zM659.0 268h15.8v2h-15.8zM249.4 280h15.8v2h-15.8zM265.2 286h15.8v2h-15.8zM233.7 288h15.8v2h-15.8zM265.2 288h15.8v2h-15.8zM895.2 292h15.8v2h-15.8zM265.2 302h15.8v2h-15.8zM501.4 302h15.8v2h-15.8zM611.7 306h15.8v2h-15.8zM359.7 328h15.8v2h-15.8zM737.7 328h15.8v2h-15.8zM485.7 332h31.5v2h-31.5zM737.7 352h15.8v2h-15.8zM548.7 360h15.8v2h-15.8zM926.7 360h15.8v2h-15.8zM753.5 372h15.8v2h-15.8zM548.7 374h15.8v2h-15.8zM548.7 382h15.8v2h-15.8zM722.0 382h15.8v2h-15.8zM190.0 384h12.2v2h-12.2zM800.7 386h15.8v2h-15.8zM769.2 400h15.8v2h-15.8zM690.5 408h31.5v2h-31.5zM753.5 410h15.8v2h-15.8zM343.9 414h15.8v2h-15.8zM1021.2 414h15.8v2h-15.8zM800.7 436h15.8v2h-15.8zM785.0 462h15.8v2h-15.8zM816.5 478h15.8v2h-15.8zM816.5 482h15.8v2h-15.8zM816.5 508h15.8v2h-15.8zM800.7 566h15.8v2h-15.8zM832.2 578h15.8v2h-15.8zM848.0 612h15.8v2h-15.8zM911.0 688h15.8v2h-15.8zM926.7 750h15.8v2h-15.8zM911.0 752h15.8v2h-15.8z"/>
<path fill="rgb(0,0,255)" d="M596.0 86h15.8v2h-15.8zM1005.5 86h15.8v2h-15.8zM643.2 88h15.8v2h-15.8zM190.0 90h12.2v2h-12.2zM737.7 92h15.8v2h-15.8zM769.2 92h15.8v2h-15.8zM469.9 102h15.8v2h-15.8zM517.2 102h15.8v2h-15.8zM265.2 104h15.8v2h-15.8zM422.7 112h15.8v2h-15.8zM674.7 112h15.8v2h-15.8zM816.5 116h15.8v2h-15.8zM722.0 118h15.8v2h-15.8zM706.2 122h15.8v2h-15.8zM485.7 124h15.8v2h-15.8zM296.7 128h15.8v2h-15.8zM265.2 134h15.8v2h-15.8zM359.7 136h15.8v2h-15.8zM627.5 138h15.8v2h-15.8zM517.2 140h15.8v2h-15.8zM737.7 142h15.8v2h-15.8zM596.0 144h31.5v2h-31.5zM722.0 146h15.8v2h-15.8zM312.4 156h15.8v2h-15.8zM375.4 156h15.8v2h-15.8zM438.4 156h15.8v2h-15.8zM706.2 160h15.8v2h-15.8zM438.4 164h15.8v2h-15.8zM533.0 166h15.8v2h-15.8zM580.2 170h15.8v2h-15.8zM296.7 178h31.5v2h-31.5zM737.7 178h31.5v2h-31.5zM190.0 180h12.2v2h-12.2zM438.4 180h15.8v2h-15.8zM485.7 180h15.8v2h-15.8zM596.0 184h15.8v2h-15.8zM659.0 206h15.8v2h-15.8zM1005.5 208h47.2v2h-47.2zM438.4 210h15.8v2h-15.8zM406.9 218h31.5v2h-31.5zM989.7 220h15.8v2h-15.8zM1037.0 224h15.8v2h-15.8zM958.2 232h15.8v2h-15.8zM406.9 234h15.8v2h-15.8zM422.7 250h15.8v2h-15.8zM1068.5 262h15.8v2h-15.8zM312.4 288h15.8v2h-15.8zM596.0 288h15.8v2h-15.8zM375.4 296h15.8v2h-15.8zM722.0 310h15.8v2h-15.8zM375.4 312h15.8v2h-15.8zM643.2 318h31.5v2h-31.5zM312.4 332h15.8v2h-15.8zM722.0 352h15.8v2h-15.8zM343.9 362h15.8v2h-15.8zM737.7 372h15.8v2h-15.8zM769.2 374h15.8v2h-15.8zM296.7 382h15.8v2h-15.8zM659.0 384h15.8v2h-15.8zM202.2 394h15.8v2h-15.8zM296.7 404h15.8v2h-15.8zM233.7 412h15.8v2h-15.8zM942.5 412h15.8v2h-15.8zM611.7 432h15.8v2h-15.8zM643.2 432h15.8v2h-15.8zM753.5 436h15.8v2h-15.8zM816.5 440h15.8v2h-15.8zM753.5 562h15.8v2h-15.8zM848.0 592h15.8v2h-15.8zM911.0 674h15.8v2h-15.8zM911.0 736h15.8v2h-15.8z"/>
<path fill="rgb(0,120,255)" d="M611.7 86h15.8v2h-15.8zM706.2 86h15.8v2h-15.8zM737.7 88h15.8v2h-15.8zM785.0 90h15.8v2h-15.8zM848.0 94h15.8v2h-15.8zM643.2 96h15.8v2h-15.8zM375.4 104h15.8v2h-15.8zM533.0 104h15.8v2h-15.8zM406.9 106h15.8v2h-15.8zM816.5 120h15.8v2h-15.8zM249.4 126h15.8v2h-15.8zM643.2 126h15.8v2h-15.8zM564.5 128h15.8v2h-15.8zM312.4 130h31.5v2h-31.5zM391.2 136h15.8v2h-15.8zM816.5 136h15.8v2h-15.8zM564.5 148h15.8v2h-15.8zM190.0 154h12.2v2h-12.2zM233.7 158h15.8v2h-15.8zM202.2 176h15.8v2h-15.8zM611.7 188h15.8v2h-15.8zM217.9 190h15.8v2h-15.8zM280.9 202h15.8v2h-15.8zM722.0 202h15.8v2h-15.8zM217.9 246h15.8v2h-15.8zM296.7 286h15.8v2h-15.8zM737.7 334h15.8v2h-15.8zM785.0 396h15.8v2h-15.8zM753.5 406h15.8v2h-15.8zM296.7 412h15.8v2h-15.8zM769.2 426h15.8v2h-15.8zM769.2 444h31.5v2h-31.5zM816.5 466h15.8v2h-15.8zM816.5 498h15.8v2h-15.8zM816.5 510h15.8v2h-15.8zM848.0 562h15.8v2h-15.8zM863.7 588h15.8v2h-15.8zM863.7 656h15.8v2h-15.8zM879.5 658h15.8v2h-15.8zM879.5 672h15.8v2h-15.8z"/>
<path fill="rgb(0,0,176)" d="M659.0 86h15.8v2h-15.8zM674.7 90h15.8v2h-15.8zM249.4 92h15.8v2h-15.8zM422.7 92h15.8v2h-15.8zM517.2 92h15.8v2h-15.8zM501.4 96h15.8v2h-15.8zM596.0 100h15.8v2h-15.8zM249.4 102h15.8v2h-15.8zM548.7 104h15.8v2h-15.8zM643.2 104h15.8v2h-15.8zM832.2 104h15.8v2h-15.8zM659.0 106h15.8v2h-15.8zM753.5 106h15.8v2h-15.8zM643.2 110h15.8v2h-15.8zM422.7 116h15.8v2h-15.8zM548.7 116h15.8v2h-15.8zM296.7 118h15.8v2h-15.8zM753.5 118h15.8v2h-15.8zM533.0 120h15.8v2h-15.8zM659.0 120h15.8v2h-15.8zM233.7 124h15.8v2h-15.8zM296.7 126h15.8v2h-15.8zM190.0 128h12.2v2h-12.2zM190.0 130h12.2v2h-12.2zM312.4 132h31.5v2h-31.5zM737.7 132h15.8v2h-15.8zM217.9 134h15.8v2h-15.8zM674.7 134h15.8v2h-15.8zM737.7 134h15.8v2h-15.8zM296.7 136h15.8v2h-15.8zM737.7 136h15.8v2h-15.8zM217.9 138h15.8v2h-15.8zM548.7 138h15.8v2h-15.8zM722.0 140h15.8v2h-15.8zM769.2 140h15.8v2h-15.8zM190.0 142h12.2v2h-12.2zM190.0 144h12.2v2h-12.2zM659.0 146h15.8v2h-15.8zM469.9 156h15.8v2h-15.8zM722.0 156h15.8v2h-15.8zM202.2 158h15.8v2h-15.8zM190.0 160h12.2v2h-12.2zM643.2 160h15.8v2h-15.8zM800.7 164h15.8v2h-15.8zM190.0 170h12.2v2h-12.2zM190.0 174h12.2v2h-12.2zM611.7 174h31.5v2h-31.5zM1005.5 174h15.8v2h-15.8zM391.2 176h15.8v2h-15.8zM596.0 176h15.8v2h-15.8zM233.7 178h15.8v2h-15.8zM611.7 178h15.8v2h-15.8zM643.2 180h15.8v2h-15.8zM233.7 188h15.8v2h-15.8zM722.0 188h15.8v2h-15.8zM190.0 190h12.2v2h-12.2zM722.0 190h15.8v2h-15.8zM249.4 192h15.8v2h-15.8zM706.2 192h15.8v2h-15.8zM280.9 194h15.8v2h-15.8zM627.5 194h15.8v2h-15.8zM659.0 196h15.8v2h-15.8zM265.2 198h15.8v2h-15.8zM265.2 200h15.8v2h-15.8zM548.7 218h15.8v2h-15.8zM706.2 218h15.8v2h-15.8zM942.5 218h15.8v2h-15.8zM202.2 228h15.8v2h-15.8zM753.5 228h15.8v2h-15.8zM1037.0 228h31.5v2h-31.5zM422.7 230h15.8v2h-15.8zM202.2 232h15.8v2h-15.8zM202.2 234h15.8v2h-15.8zM296.7 234h15.8v2h-15.8zM359.7 234h15.8v2h-15.8zM722.0 238h15.8v2h-15.8zM690.5 240h15.8v2h-15.8zM879.5 240h15.8v2h-15.8zM911.0 240h15.8v2h-15.8zM296.7 244h15.8v2h-15.8zM343.9 244h15.8v2h-15.8zM659.0 254h31.5v2h-31.5zM249.4 256h15.8v2h-15.8zM785.0 266h15.8v2h-15.8zM690.5 270h15.8v2h-15.8zM722.0 272h15.8v2h-15.8zM690.5 280h15.8v2h-15.8zM958.2 282h15.8v2h-15.8zM265.2 284h15.8v2h-15.8zM249.4 286h15.8v2h-15.8zM265.2 290h15.8v2h-15.8zM391.2 308h15.8v2h-15.8zM911.0 308h15.8v2h-15.8zM722.0 314h15.8v2h-15.8zM627.5 316h15.8v2h-15.8zM517.2 326h15.8v2h-15.8zM722.0 328h15.8v2h-15.8zM816.5 330h15.8v2h-15.8zM359.7 336h15.8v2h-15.8zM312.4 342h15.8v2h-15.8zM312.4 346h15.8v2h-15.8zM722.0 348h15.8v2h-15.8zM627.5 350h15.8v2h-15.8zM312.4 352h15.8v2h-15.8zM422.7 354h15.8v2h-15.8zM643.2 354h15.8v2h-15.8zM753.5 362h15.8v2h-15.8zM737.7 366h15.8v2h-15.8zM753.5 370h15.8v2h-15.8zM958.2 370h15.8v2h-15.8zM737.7 378h31.5v2h-31.5zM280.9 380h15.8v2h-15.8zM280.9 384h15.8v2h-15.8zM911.0 396h15.8v2h-15.8zM328.2 402h15.8v2h-15.8zM926.7 404h15.8v2h-15.8zM769.2 422h15.8v2h-15.8zM611.7 434h15.8v2h-15.8zM627.5 448h15.8v2h-15.8zM800.7 448h15.8v2h-15.8zM785.0 460h31.5v2h-31.5zM769.2 462h15.8v2h-15.8zM800.7 464h15.8v2h-15.8zM785.0 478h15.8v2h-15.8zM800.7 504h15.8v2h-15.8zM800.7 506h15.8v2h-15.8zM800.7 524h15.8v2h-15.8zM800.7 530h15.8v2h-15.8zM800.7 532h15.8v2h-15.8zM848.0 534h15.8v2h-15.8zM848.0 550h15.8v2h-15.8zM816.5 556h15.8v2h-15.8zM832.2 570h15.8v2h-15.8zM879.5 576h15.8v2h-15.8zM863.7 586h15.8v2h-15.8zM879.5 590h15.8v2h-15.8zM848.0 598h15.8v2h-15.8zM863.7 612h15.8v2h-15.8zM879.5 650h15.8v2h-15.8zM879.5 652h15.8v2h-15.8zM895.2 654h15.8v2h-15.8zM879.5 670h15.8v2h-15.8zM863.7 674h31.5v2h-31.5zM879.5 676h15.8v2h-15.8zM895.2 690h15.8v2h-15.8zM879.5 692h15.8v2h-15.8zM926.7 712h15.8v2h-15.8zM911.0 716h15.8v2h-15.8z"/>
<path fill="rgb(0,0,160)" d="M674.7 86h15.8v2h-15.8zM501.4 88h15.8v2h-15.8zM580.2 88h15.8v2h-15.8zM249.4 90h15.8v2h-15.8zM548.7 90h15.8v2h-15.8zM769.2 90h15.8v2h-15.8zM674.7 92h15.8v2h-15.8zM517.2 100h15.8v2h-15.8zM548.7 102h15.8v2h-15.8zM190.0 104h12.2v2h-12.2zM422.7 104h15.8v2h-15.8zM785.0 106h15.8v2h-15.8zM422.7 108h15.8v2h-15.8zM690.5 110h15.8v2h-15.8zM548.7 112h15.8v2h-15.8zM627.5 112h15.8v2h-15.8zM533.0 114h15.8v2h-15.8zM769.2 114h15.8v2h-15.8zM564.5 116h15.8v2h-15.8zM627.5 116h15.8v2h-15.8zM249.4 118h15.8v2h-15.8zM406.9 118h15.8v2h-15.8zM580.2 118h15.8v2h-15.8zM422.7 120h15.8v2h-15.8zM469.9 120h15.8v2h-15.8zM737.7 120h15.8v2h-15.8zM769.2 122h15.8v2h-15.8zM548.7 126h47.2v2h-47.2zM832.2 126h15.8v2h-15.8zM217.9 128h15.8v2h-15.8zM375.4 128h31.5v2h-31.5zM722.0 128h15.8v2h-15.8zM533.0 130h15.8v2h-15.8zM753.5 130h15.8v2h-15.8zM375.4 132h15.8v2h-15.8zM580.2 134h15.8v2h-15.8zM233.7 138h15.8v2h-15.8zM375.4 140h15.8v2h-15.8zM548.7 142h15.8v2h-15.8zM769.2 142h15.8v2h-15.8zM659.0 144h15.8v2h-15.8zM769.2 144h15.8v2h-15.8zM722.0 150h15.8v2h-15.8zM722.0 152h31.5v2h-31.5zM343.9 154h15.8v2h-15.8zM643.2 154h15.8v2h-15.8zM580.2 160h15.8v2h-15.8zM989.7 160h15.8v2h-15.8zM391.2 162h15.8v2h-15.8zM233.7 168h15.8v2h-15.8zM611.7 170h15.8v2h-15.8zM202.2 172h31.5v2h-31.5zM596.0 172h31.5v2h-31.5zM643.2 174h15.8v2h-15.8zM190.0 178h12.2v2h-12.2zM406.9 180h15.8v2h-15.8zM627.5 182h15.8v2h-15.8zM722.0 182h15.8v2h-15.8zM265.2 190h15.8v2h-15.8zM611.7 192h15.8v2h-15.8zM265.2 194h15.8v2h-15.8zM659.0 194h15.8v2h-15.8zM690.5 194h15.8v2h-15.8zM296.7 196h15.8v2h-15.8zM501.4 200h15.8v2h-15.8zM659.0 200h15.8v2h-15.8zM202.2 210h15.8v2h-15.8zM406.9 210h15.8v2h-15.8zM706.2 210h15.8v2h-15.8zM202.2 212h15.8v2h-15.8zM265.2 214h15.8v2h-15.8zM737.7 216h15.8v2h-15.8zM249.4 220h31.5v2h-31.5zM217.9 222h15.8v2h-15.8zM202.2 224h15.8v2h-15.8zM706.2 226h15.8v2h-15.8zM202.2 230h15.8v2h-15.8zM359.7 232h15.8v2h-15.8zM391.2 232h15.8v2h-15.8zM280.9 236h15.8v2h-15.8zM202.2 238h15.8v2h-15.8zM674.7 238h15.8v2h-15.8zM706.2 238h15.8v2h-15.8zM375.4 240h15.8v2h-15.8zM753.5 246h15.8v2h-15.8zM265.2 250h15.8v2h-15.8zM722.0 252h15.8v2h-15.8zM217.9 260h15.8v2h-15.8zM706.2 264h15.8v2h-15.8zM233.7 268h15.8v2h-15.8zM643.2 268h15.8v2h-15.8zM722.0 268h15.8v2h-15.8zM690.5 272h15.8v2h-15.8zM690.5 278h15.8v2h-15.8zM233.7 280h15.8v2h-15.8zM265.2 280h15.8v2h-15.8zM690.5 286h15.8v2h-15.8zM596.0 290h15.8v2h-15.8zM280.9 292h15.8v2h-15.8zM265.2 296h31.5v2h-31.5zM722.0 296h15.8v2h-15.8zM280.9 302h15.8v2h-15.8zM895.2 310h15.8v2h-15.8zM485.7 312h15.8v2h-15.8zM517.2 314h15.8v2h-15.8zM265.2 328h15.8v2h-15.8zM517.2 328h15.8v2h-15.8zM312.4 330h15.8v2h-15.8zM312.4 334h15.8v2h-15.8zM722.0 338h15.8v2h-15.8zM722.0 340h15.8v2h-15.8zM233.7 342h15.8v2h-15.8zM722.0 342h15.8v2h-15.8zM753.5 352h15.8v2h-15.8zM753.5 366h15.8v2h-15.8zM659.0 368h15.8v2h-15.8zM753.5 384h15.8v2h-15.8zM753.5 388h15.8v2h-15.8zM785.0 400h15.8v2h-15.8zM280.9 418h15.8v2h-15.8zM800.7 428h15.8v2h-15.8zM753.5 432h31.5v2h-31.5zM296.7 434h15.8v2h-15.8zM785.0 438h15.8v2h-15.8zM769.2 442h15.8v2h-15.8zM800.7 456h15.8v2h-15.8zM785.0 466h15.8v2h-15.8zM800.7 474h31.5v2h-31.5zM785.0 484h15.8v2h-15.8zM848.0 526h15.8v2h-15.8zM848.0 540h15.8v2h-15.8zM848.0 548h15.8v2h-15.8zM832.2 576h15.8v2h-15.8zM848.0 608h15.8v2h-15.8zM863.7 616h15.8v2h-15.8zM879.5 648h15.8v2h-15.8zM879.5 678h15.8v2h-15.8zM926.7 702h15.8v2h-15.8zM911.0 708h15.8v2h-15.8zM942.5 720h15.8v2h-15.8zM911.0 750h15.8v2h-15.8zM911.0 758h15.8v2h-15.8zM926.7 760h15.8v2h-15.8z"/>
<path fill="rgb(0,184,255)" d="M722.0 86h15.8v2h-15.8zM217.9 98h15.8v2h-15.8zM202.2 116h31.5v2h-31.5zM611.7 116h15.8v2h-15.8zM548.7 130h15.8v2h-15.8zM737.7 130h15.8v2h-15.8zM596.0 148h15.8v2h-15.8zM202.2 194h15.8v2h-15.8zM217.9 210h15.8v2h-15.8zM233.7 254h15.8v2h-15.8zM233.7 256h15.8v2h-15.8zM280.9 304h15.8v2h-15.8zM737.7 338h15.8v2h-15.8zM328.2 356h15.8v2h-15.8zM800.7 494h15.8v2h-15.8zM832.2 542h15.8v2h-15.8zM832.2 552h15.8v2h-15.8zM863.7 572h15.8v2h-15.8zM848.0 590h15.8v2h-15.8zM926.7 756h15.8v2h-15.8z"/>
<path fill="rgb(0,160,255)" d="M737.7 86h15.8v2h-15.8zM406.9 88h15.8v2h-15.8zM517.2 88h31.5v2h-31.5zM233.7 90h15.8v2h-15.8zM217.9 96h15.8v2h-15.8zM202.2 98h15.8v2h-15.8zM217.9 100h31.5v2h-31.5zM343.9 100h15.8v2h-15.8zM233.7 106h31.5v2h-31.5zM659.0 108h31.5v2h-31.5zM643.2 112h15.8v2h-15.8zM249.4 114h15.8v2h-15.8zM422.7 114h15.8v2h-15.8zM375.4 130h15.8v2h-15.8zM280.9 144h15.8v2h-15.8zM217.9 152h15.8v2h-15.8zM580.2 152h15.8v2h-15.8zM217.9 154h15.8v2h-15.8zM690.5 206h15.8v2h-15.8zM785.0 222h15.8v2h-15.8zM280.9 230h31.5v2h-31.5zM674.7 244h15.8v2h-15.8zM217.9 250h15.8v2h-15.8zM249.4 258h15.8v2h-15.8zM706.2 274h15.8v2h-15.8zM706.2 278h15.8v2h-15.8zM249.4 324h15.8v2h-15.8zM737.7 332h15.8v2h-15.8zM753.5 344h15.8v2h-15.8zM753.5 408h15.8v2h-15.8zM785.0 422h15.8v2h-15.8zM879.5 664h15.8v2h-15.8zM879.5 666h15.8v2h-15.8zM926.7 752h15.8v2h-15.8z"/>
<path fill="rgb(32,255,224)" d="M769.2 86h15.8v2h-15.8zM217.9 174h15.8v2h-15.8zM249.4 184h15.8v2h-15.8zM217.9 214h15.8v2h-15.8zM249.4 228h15.8v2h-15.8zM249.4 238h15.8v2h-15.8zM233.7 244h31.5v2h-31.5zM832.2 520h15.8v2h-15.8z"/>
<path fill="rgb(0,0,240)" d="M816.5 86h15.8v2h-15.8zM1021.2 86h15.8v2h-15.8zM737.7 90h31.5v2h-31.5zM769.2 96h15.8v2h-15.8zM863.7 96h15.8v2h-15.8zM217.9 102h15.8v2h-15.8zM312.4 128h15.8v2h-15.8zM501.4 128h15.8v2h-15.8zM800.7 134h15.8v2h-15.8zM501.4 154h31.5v2h-31.5zM422.7 158h15.8v2h-15.8zM501.4 166h15.8v2h-15.8zM202.2 174h15.8v2h-15.8zM596.0 178h15.8v2h-15.8zM832.2 178h15.8v2h-15.8zM485.7 182h15.8v2h-15.8zM895.2 186h47.2v2h-47.2zM406.9 198h31.5v2h-31.5zM611.7 200h15.8v2h-15.8zM454.2 204h15.8v2h-15.8zM580.2 206h15.8v2h-15.8zM233.7 208h15.8v2h-15.8zM611.7 218h15.8v2h-15.8zM974.0 222h15.8v2h-15.8zM1052.7 224h15.8v2h-15.8zM217.9 226h15.8v2h-15.8zM217.9 228h15.8v2h-15.8zM233.7 232h15.8v2h-15.8zM422.7 234h15.8v2h-15.8zM974.0 234h15.8v2h-15.8zM690.5 250h15.8v2h-15.8zM611.7 256h15.8v2h-15.8zM722.0 260h15.8v2h-15.8zM375.4 268h15.8v2h-15.8zM469.9 268h15.8v2h-15.8zM659.0 272h15.8v2h-15.8zM942.5 278h31.5v2h-31.5zM359.7 280h31.5v2h-31.5zM659.0 302h15.8v2h-15.8zM233.7 304h15.8v2h-15.8zM328.2 304h31.5v2h-31.5zM249.4 310h15.8v2h-15.8zM659.0 334h15.8v2h-15.8zM233.7 336h31.5v2h-31.5zM312.4 336h15.8v2h-15.8zM202.2 352h15.8v2h-15.8zM722.0 366h15.8v2h-15.8zM785.0 374h15.8v2h-15.8zM217.9 394h15.8v2h-15.8zM202.2 396h15.8v2h-15.8zM800.7 410h15.8v2h-15.8zM911.0 434h15.8v2h-15.8zM958.2 434h15.8v2h-15.8zM769.2 436h15.8v2h-15.8zM627.5 442h31.5v2h-31.5zM627.5 444h15.8v2h-15.8zM800.7 468h15.8v2h-15.8zM800.7 486h15.8v2h-15.8zM832.2 502h15.8v2h-15.8zM800.7 512h15.8v2h-15.8zM832.2 512h15.8v2h-15.8zM737.7 562h15.8v2h-15.8zM863.7 628h15.8v2h-15.8z"/>
<path fill="rgb(0,0,248)" d="M989.7 86h15.8v2h-15.8zM753.5 92h15.8v2h-15.8zM816.5 100h15.8v2h-15.8zM454.2 118h15.8v2h-15.8zM280.9 128h15.8v2h-15.8zM190.0 132h12.2v2h-12.2zM753.5 142h15.8v2h-15.8zM202.2 144h15.8v2h-15.8zM958.2 152h15.8v2h-15.8zM406.9 158h15.8v2h-15.8zM485.7 158h15.8v2h-15.8zM816.5 166h15.8v2h-15.8zM785.0 172h15.8v2h-15.8zM454.2 180h15.8v2h-15.8zM280.9 182h15.8v2h-15.8zM611.7 184h31.5v2h-31.5zM674.7 184h31.5v2h-31.5zM1021.2 184h47.2v2h-47.2zM800.7 188h15.8v2h-15.8zM674.7 190h15.8v2h-15.8zM548.7 198h15.8v2h-15.8zM643.2 206h15.8v2h-15.8zM659.0 226h15.8v2h-15.8zM706.2 234h31.5v2h-31.5zM974.0 244h15.8v2h-15.8zM190.0 248h12.2v2h-12.2zM406.9 250h15.8v2h-15.8zM926.7 260h15.8v2h-15.8zM737.7 264h15.8v2h-15.8zM611.7 288h15.8v2h-15.8zM753.5 290h15.8v2h-15.8zM233.7 314h15.8v2h-15.8zM265.2 314h15.8v2h-15.8zM328.2 336h15.8v2h-15.8zM690.5 358h15.8v2h-15.8zM202.2 368h15.8v2h-15.8zM627.5 374h15.8v2h-15.8zM233.7 394h15.8v2h-15.8zM958.2 412h15.8v2h-15.8zM785.0 512h15.8v2h-15.8zM974.0 520h15.8v2h-15.8zM1005.5 520h15.8v2h-15.8zM816.5 532h31.5v2h-31.5zM879.5 578h15.8v2h-15.8zM848.0 580h15.8v2h-15.8zM848.0 586h15.8v2h-15.8zM895.2 652h15.8v2h-15.8zM863.7 680h15.8v2h-15.8z"/>
<path fill="rgb(0,216,255)" d="M190.0 88h12.2v2h-12.2zM296.7 100h15.8v2h-15.8zM769.2 104h15.8v2h-15.8zM233.7 108h15.8v2h-15.8zM217.9 112h15.8v2h-15.8zM564.5 114h15.8v2h-15.8zM217.9 120h15.8v2h-15.8zM202.2 126h15.8v2h-15.8zM217.9 130h15.8v2h-15.8zM217.9 146h15.8v2h-15.8zM202.2 168h15.8v2h-15.8zM217.9 184h31.5v2h-31.5zM217.9 194h31.5v2h-31.5zM233.7 198h15.8v2h-15.8zM249.4 240h15.8v2h-15.8zM217.9 254h15.8v2h-15.8zM249.4 312h15.8v2h-15.8zM785.0 434h15.8v2h-15.8zM800.7 508h15.8v2h-15.8zM863.7 582h15.8v2h-15.8z"/>
<path fill="rgb(16,255,240)" d="M202.2 88h15.8v2h-15.8zM580.2 92h15.8v2h-15.8zM217.9 140h15.8v2h-15.8zM217.9 144h15.8v2h-15.8zM202.2 200h31.5v2h-31.5zM217.9 212h15.8v2h-15.8zM233.7 226h15.8v2h-15.8zM706.2 256h15.8v2h-15.8zM785.0 458h15.8v2h-15.8zM848.0 566h15.8v2h-15.8z"/>
<path fill="rgb(0,224,255)" d="M217.9 88h31.5v2h-31.5zM202.2 92h15.8v2h-15.8zM233.7 112h15.8v2h-15.8zM233.7 146h15.8v2h-15.8zM233.7 162h15.8v2h-15.8zM722.0 198h15.8v2h-15.8zM233.7 234h15.8v2h-15.8zM706.2 248h15.8v2h-15.8zM265.2 292h15.8v2h-15.8zM785.0 472h15.8v2h-15.8zM816.5 500h15.8v2h-15.8zM911.0 714h15.8v2h-15.8z"/>
<path fill="rgb(0,96,255)" d="M422.7 88h15.8v2h-15.8zM517.2 90h15.8v2h-15.8zM753.5 96h15.8v2h-15.8zM249.4 98h15.8v2h-15.8zM359.7 98h15.8v2h-15.8zM296.7 102h15.8v2h-15.8zM785.0 102h15.8v2h-15.8zM438.4 106h15.8v2h-15.8zM548.7 108h15.8v2h-15.8zM406.9 114h15.8v2h-15.8zM391.2 116h15.8v2h-15.8zM769.2 120h15.8v2h-15.8zM233.7 122h15.8v2h-15.8zM375.4 122h15.8v2h-15.8zM406.9 122h15.8v2h-15.8zM659.0 128h15.8v2h-15.8zM406.9 136h15.8v2h-15.8zM580.2 136h15.8v2h-15.8zM328.2 142h15.8v2h-15.8zM391.2 142h31.5v2h-31.5zM674.7 142h15.8v2h-15.8zM674.7 148h15.8v2h-15.8zM769.2 150h15.8v2h-15.8zM753.5 156h15.8v2h-15.8zM643.2 158h15.8v2h-15.8zM296.7 168h15.8v2h-15.8zM785.0 170h15.8v2h-15.8zM769.2 172h15.8v2h-15.8zM217.9 182h15.8v2h-15.8zM596.0 192h15.8v2h-15.8zM769.2 192h15.8v2h-15.8zM280.9 196h15.8v2h-15.8zM643.2 200h15.8v2h-15.8zM249.4 202h15.8v2h-15.8zM659.0 202h15.8v2h-15.8zM737.7 202h15.8v2h-15.8zM265.2 204h15.8v2h-15.8zM706.2 212h15.8v2h-15.8zM296.7 218h31.5v2h-31.5zM816.5 222h15.8v2h-15.8zM265.2 240h15.8v2h-15.8zM280.9 246h15.8v2h-15.8zM265.2 256h15.8v2h-15.8zM265.2 274h15.8v2h-15.8zM265.2 282h15.8v2h-15.8zM280.9 284h15.8v2h-15.8zM280.9 286h15.8v2h-15.8zM249.4 292h15.8v2h-15.8zM737.7 298h15.8v2h-15.8zM690.5 308h15.8v2h-15.8zM659.0 314h31.5v2h-31.5zM265.2 318h31.5v2h-31.5zM343.9 322h15.8v2h-15.8zM737.7 324h15.8v2h-15.8zM737.7 356h15.8v2h-15.8zM737.7 376h15.8v2h-15.8zM753.5 380h15.8v2h-15.8zM785.0 432h15.8v2h-15.8zM769.2 452h15.8v2h-15.8zM785.0 480h15.8v2h-15.8zM832.2 506h15.8v2h-15.8zM848.0 558h15.8v2h-15.8zM863.7 658h15.8v2h-15.8zM879.5 662h15.8v2h-15.8zM895.2 668h15.8v2h-15.8zM926.7 762h15.8v2h-15.8zM926.7 776h15.8v2h-15.8z"/>
<path fill="rgb(0,136,255)" d="M438.4 88h15.8v2h-15.8zM690.5 88h15.8v2h-15.8zM391.2 90h15.8v2h-15.8zM753.5 98h15.8v2h-15.8zM233.7 102h15.8v2h-15.8zM785.0 110h15.8v2h-15.8zM816.5 112h15.8v2h-15.8zM596.0 116h15.8v2h-15.8zM643.2 118h15.8v2h-15.8zM202.2 124h15.8v2h-15.8zM564.5 130h15.8v2h-15.8zM769.2 130h15.8v2h-15.8zM217.9 132h15.8v2h-15.8zM659.0 150h15.8v2h-15.8zM564.5 152h15.8v2h-15.8zM249.4 172h15.8v2h-15.8zM249.4 186h15.8v2h-15.8zM643.2 186h15.8v2h-15.8zM217.9 192h15.8v2h-15.8zM706.2 196h15.8v2h-15.8zM737.7 210h15.8v2h-15.8zM265.2 224h15.8v2h-15.8zM233.7 230h15.8v2h-15.8zM674.7 230h15.8v2h-15.8zM674.7 232h15.8v2h-15.8zM265.2 242h15.8v2h-15.8zM722.0 248h15.8v2h-15.8zM674.7 252h15.8v2h-15.8zM249.4 262h15.8v2h-15.8zM249.4 282h15.8v2h-15.8zM722.0 284h15.8v2h-15.8zM722.0 292h15.8v2h-15.8zM296.7 310h15.8v2h-15.8zM706.2 324h15.8v2h-15.8zM737.7 336h15.8v2h-15.8zM737.7 340h15.8v2h-15.8zM312.4 356h15.8v2h-15.8zM753.5 368h15.8v2h-15.8zM769.2 382h15.8v2h-15.8zM769.2 402h15.8v2h-15.8zM280.9 412h15.8v2h-15.8zM785.0 426h15.8v2h-15.8zM785.0 448h15.8v2h-15.8zM800.7 470h31.5v2h-31.5zM816.5 492h15.8v2h-15.8zM816.5 528h15.8v2h-15.8zM800.7 534h15.8v2h-15.8zM848.0 610h15.8v2h-15.8z"/>
<path fill="rgb(0,0,152)" d="M485.7 88h15.8v2h-15.8zM564.5 90h15.8v2h-15.8zM659.0 90h15.8v2h-15.8zM501.4 92h15.8v2h-15.8zM548.7 92h15.8v2h-15.8zM517.2 96h15.8v2h-15.8zM674.7 96h15.8v2h-15.8zM422.7 98h15.8v2h-15.8zM580.2 100h15.8v2h-15.8zM501.4 104h15.8v2h-15.8zM580.2 104h15.8v2h-15.8zM753.5 104h15.8v2h-15.8zM501.4 106h15.8v2h-15.8zM769.2 106h15.8v2h-15.8zM501.4 108h15.8v2h-15.8zM753.5 108h15.8v2h-15.8zM249.4 110h15.8v2h-15.8zM627.5 110h15.8v2h-15.8zM249.4 112h15.8v2h-15.8zM422.7 118h15.8v2h-15.8zM659.0 118h15.8v2h-15.8zM202.2 122h15.8v2h-15.8zM753.5 122h15.8v2h-15.8zM296.7 124h15.8v2h-15.8zM533.0 124h15.8v2h-15.8zM643.2 124h31.5v2h-31.5zM190.0 136h12.2v2h-12.2zM375.4 138h15.8v2h-15.8zM564.5 146h15.8v2h-15.8zM737.7 154h15.8v2h-15.8zM659.0 160h15.8v2h-15.8zM190.0 166h12.2v2h-12.2zM249.4 168h15.8v2h-15.8zM596.0 170h15.8v2h-15.8zM643.2 178h15.8v2h-15.8zM722.0 184h15.8v2h-15.8zM265.2 188h15.8v2h-15.8zM643.2 188h15.8v2h-15.8zM249.4 190h15.8v2h-15.8zM627.5 190h15.8v2h-15.8zM737.7 190h15.8v2h-15.8zM627.5 192h15.8v2h-15.8zM202.2 196h31.5v2h-31.5zM265.2 196h15.8v2h-15.8zM690.5 200h15.8v2h-15.8zM722.0 200h15.8v2h-15.8zM690.5 218h15.8v2h-15.8zM706.2 220h15.8v2h-15.8zM217.9 236h15.8v2h-15.8zM375.4 236h15.8v2h-15.8zM674.7 236h15.8v2h-15.8zM375.4 238h15.8v2h-15.8zM674.7 242h15.8v2h-15.8zM690.5 246h15.8v2h-15.8zM674.7 260h15.8v2h-15.8zM706.2 272h15.8v2h-15.8zM706.2 276h15.8v2h-15.8zM722.0 278h15.8v2h-15.8zM249.4 288h15.8v2h-15.8zM296.7 292h15.8v2h-15.8zM706.2 294h15.8v2h-15.8zM280.9 308h15.8v2h-15.8zM280.9 314h15.8v2h-15.8zM706.2 314h15.8v2h-15.8zM706.2 316h15.8v2h-15.8zM249.4 326h15.8v2h-15.8zM722.0 346h15.8v2h-15.8zM737.7 358h15.8v2h-15.8zM312.4 360h15.8v2h-15.8zM737.7 360h15.8v2h-15.8zM753.5 364h15.8v2h-15.8zM753.5 382h15.8v2h-15.8zM753.5 400h15.8v2h-15.8zM800.7 430h15.8v2h-15.8zM753.5 434h15.8v2h-15.8zM785.0 488h15.8v2h-15.8zM816.5 488h15.8v2h-15.8zM800.7 520h15.8v2h-15.8zM848.0 552h15.8v2h-15.8zM832.2 574h15.8v2h-15.8zM863.7 580h15.8v2h-15.8zM863.7 594h15.8v2h-15.8zM848.0 616h15.8v2h-15.8zM863.7 654h15.8v2h-15.8zM879.5 688h15.8v2h-15.8zM895.2 702h15.8v2h-15.8zM895.2 706h15.8v2h-15.8zM911.0 712h15.8v2h-15.8zM895.2 716h15.8v2h-15.8zM911.0 748h15.8v2h-15.8z"/>
<path fill="rgb(0,0,200)" d="M564.5 88h15.8v2h-15.8zM533.0 90h15.8v2h-15.8zM564.5 92h15.8v2h-15.8zM265.2 98h15.8v2h-15.8zM533.0 110h15.8v2h-15.8zM233.7 116h15.8v2h-15.8zM217.9 122h15.8v2h-15.8zM217.9 126h15.8v2h-15.8zM737.7 128h15.8v2h-15.8zM769.2 128h15.8v2h-15.8zM202.2 132h15.8v2h-15.8zM753.5 136h15.8v2h-15.8zM753.5 138h15.8v2h-15.8zM217.9 142h15.8v2h-15.8zM454.2 150h15.8v2h-15.8zM296.7 156h15.8v2h-15.8zM785.0 192h15.8v2h-15.8zM233.7 196h15.8v2h-15.8zM249.4 198h15.8v2h-15.8zM202.2 204h15.8v2h-15.8zM217.9 206h15.8v2h-15.8zM202.2 208h15.8v2h-15.8zM958.2 210h15.8v2h-15.8zM1052.7 210h15.8v2h-15.8zM832.2 222h15.8v2h-15.8zM611.7 226h15.8v2h-15.8zM233.7 242h15.8v2h-15.8zM422.7 256h15.8v2h-15.8zM233.7 260h15.8v2h-15.8zM422.7 260h15.8v2h-15.8zM706.2 260h15.8v2h-15.8zM359.7 262h15.8v2h-15.8zM233.7 264h15.8v2h-15.8zM517.2 264h15.8v2h-15.8zM438.4 272h15.8v2h-15.8zM249.4 284h15.8v2h-15.8zM706.2 286h15.8v2h-15.8zM375.4 300h15.8v2h-15.8zM217.9 312h15.8v2h-15.8zM769.2 312h15.8v2h-15.8zM296.7 336h15.8v2h-15.8zM265.2 342h15.8v2h-15.8zM785.0 342h31.5v2h-31.5zM659.0 354h15.8v2h-15.8zM596.0 408h15.8v2h-15.8zM848.0 422h15.8v2h-15.8zM879.5 424h31.5v2h-31.5zM343.9 434h15.8v2h-15.8zM312.4 438h15.8v2h-15.8zM800.7 450h15.8v2h-15.8zM816.5 530h15.8v2h-15.8zM816.5 550h15.8v2h-15.8zM722.0 564h15.8v2h-15.8zM832.2 568h15.8v2h-15.8zM848.0 578h15.8v2h-15.8z"/>
<path fill="rgb(0,32,255)" d="M611.7 88h15.8v2h-15.8zM848.0 88h15.8v2h-15.8zM202.2 90h31.5v2h-31.5zM911.0 90h15.8v2h-15.8zM312.4 92h15.8v2h-15.8zM296.7 98h15.8v2h-15.8zM190.0 100h12.2v2h-12.2zM249.4 100h15.8v2h-15.8zM359.7 108h15.8v2h-15.8zM454.2 110h15.8v2h-15.8zM690.5 114h15.8v2h-15.8zM800.7 116h15.8v2h-15.8zM312.4 122h15.8v2h-15.8zM548.7 122h15.8v2h-15.8zM674.7 122h31.5v2h-31.5zM737.7 122h15.8v2h-15.8zM501.4 124h15.8v2h-15.8zM722.0 124h15.8v2h-15.8zM674.7 130h15.8v2h-15.8zM596.0 132h15.8v2h-15.8zM280.9 134h15.8v2h-15.8zM611.7 134h15.8v2h-15.8zM690.5 136h15.8v2h-15.8zM643.2 138h15.8v2h-15.8zM249.4 144h15.8v2h-15.8zM737.7 144h31.5v2h-31.5zM722.0 148h15.8v2h-15.8zM722.0 154h15.8v2h-15.8zM737.7 156h15.8v2h-15.8zM454.2 158h15.8v2h-15.8zM548.7 160h15.8v2h-15.8zM722.0 160h15.8v2h-15.8zM659.0 162h15.8v2h-15.8zM217.9 168h15.8v2h-15.8zM343.9 176h15.8v2h-15.8zM674.7 176h15.8v2h-15.8zM627.5 180h15.8v2h-15.8zM753.5 188h15.8v2h-15.8zM391.2 190h15.8v2h-15.8zM611.7 198h15.8v2h-15.8zM249.4 208h15.8v2h-15.8zM690.5 208h15.8v2h-15.8zM202.2 214h15.8v2h-15.8zM690.5 216h15.8v2h-15.8zM643.2 226h15.8v2h-15.8zM989.7 232h15.8v2h-15.8zM659.0 250h15.8v2h-15.8zM674.7 266h15.8v2h-15.8zM280.9 288h31.5v2h-31.5zM375.4 290h15.8v2h-15.8zM674.7 294h15.8v2h-15.8zM328.2 302h15.8v2h-15.8zM674.7 306h15.8v2h-15.8zM233.7 308h15.8v2h-15.8zM312.4 308h15.8v2h-15.8zM296.7 312h15.8v2h-15.8zM328.2 314h31.5v2h-31.5zM343.9 330h15.8v2h-15.8zM753.5 330h15.8v2h-15.8zM706.2 340h15.8v2h-15.8zM312.4 344h15.8v2h-15.8zM753.5 346h15.8v2h-15.8zM296.7 354h15.8v2h-15.8zM753.5 386h15.8v2h-15.8zM769.2 392h15.8v2h-15.8zM753.5 442h15.8v2h-15.8zM816.5 450h15.8v2h-15.8zM800.7 554h31.5v2h-31.5zM816.5 562h15.8v2h-15.8zM911.0 704h15.8v2h-15.8zM942.5 764h15.8v2h-15.8z"/>
<path fill="rgb(0,128,255)" d="M659.0 88h15.8v2h-15.8zM706.2 88h15.8v2h-15.8zM548.7 94h15.8v2h-15.8zM391.2 98h15.8v2h-15.8zM769.2 98h15.8v2h-15.8zM312.4 104h15.8v2h-15.8zM596.0 108h15.8v2h-15.8zM659.0 112h15.8v2h-15.8zM217.9 114h15.8v2h-15.8zM627.5 118h15.8v2h-15.8zM265.2 126h15.8v2h-15.8zM312.4 134h15.8v2h-15.8zM753.5 134h15.8v2h-15.8zM202.2 142h15.8v2h-15.8zM611.7 150h15.8v2h-15.8zM643.2 150h15.8v2h-15.8zM659.0 156h15.8v2h-15.8zM217.9 176h15.8v2h-15.8zM406.9 178h15.8v2h-15.8zM190.0 186h12.2v2h-12.2zM233.7 186h15.8v2h-15.8zM627.5 186h15.8v2h-15.8zM249.4 188h15.8v2h-15.8zM202.2 192h15.8v2h-15.8zM674.7 196h15.8v2h-15.8zM296.7 202h15.8v2h-15.8zM722.0 210h15.8v2h-15.8zM674.7 222h15.8v2h-15.8zM312.4 224h15.8v2h-15.8zM722.0 230h15.8v2h-15.8zM202.2 252h15.8v2h-15.8zM233.7 252h15.8v2h-15.8zM690.5 254h15.8v2h-15.8zM265.2 264h15.8v2h-15.8zM706.2 268h15.8v2h-15.8zM722.0 276h15.8v2h-15.8zM233.7 282h15.8v2h-15.8zM296.7 284h15.8v2h-15.8zM737.7 286h15.8v2h-15.8zM217.9 288h15.8v2h-15.8zM722.0 290h15.8v2h-15.8zM737.7 292h15.8v2h-15.8zM265.2 294h15.8v2h-15.8zM343.9 294h15.8v2h-15.8zM375.4 294h15.8v2h-15.8zM249.4 300h15.8v2h-15.8zM265.2 310h15.8v2h-15.8zM690.5 342h15.8v2h-15.8zM753.5 356h15.8v2h-15.8zM312.4 364h15.8v2h-15.8zM328.2 400h15.8v2h-15.8zM800.7 414h15.8v2h-15.8zM312.4 416h15.8v2h-15.8zM769.2 448h15.8v2h-15.8zM816.5 490h15.8v2h-15.8zM816.5 494h15.8v2h-15.8zM816.5 506h15.8v2h-15.8zM832.2 510h15.8v2h-15.8zM816.5 524h15.8v2h-15.8zM816.5 540h15.8v2h-15.8zM848.0 588h15.8v2h-15.8zM895.2 672h15.8v2h-15.8zM911.0 710h15.8v2h-15.8zM895.2 720h15.8v2h-15.8z"/>
<path fill="rgb(0,64,255)" d="M753.5 88h15.8v2h-15.8zM895.2 90h15.8v2h-15.8zM438.4 92h15.8v2h-15.8zM611.7 96h15.8v2h-15.8zM800.7 98h15.8v2h-15.8zM391.2 106h15.8v2h-15.8zM533.0 106h15.8v2h-15.8zM296.7 108h15.8v2h-15.8zM533.0 108h15.8v2h-15.8zM501.4 120h15.8v2h-15.8zM296.7 122h15.8v2h-15.8zM343.9 122h15.8v2h-15.8zM533.0 122h15.8v2h-15.8zM375.4 124h31.5v2h-31.5zM328.2 126h15.8v2h-15.8zM659.0 126h15.8v2h-15.8zM753.5 126h15.8v2h-15.8zM706.2 128h15.8v2h-15.8zM391.2 130h15.8v2h-15.8zM643.2 130h15.8v2h-15.8zM265.2 138h63.0v2h-63.0zM391.2 138h15.8v2h-15.8zM296.7 140h31.5v2h-31.5zM438.4 142h15.8v2h-15.8zM580.2 142h15.8v2h-15.8zM391.2 144h15.8v2h-15.8zM627.5 146h15.8v2h-15.8zM202.2 148h15.8v2h-15.8zM737.7 150h15.8v2h-15.8zM643.2 152h15.8v2h-15.8zM533.0 160h15.8v2h-15.8zM643.2 162h15.8v2h-15.8zM722.0 166h15.8v2h-15.8zM769.2 166h15.8v2h-15.8zM580.2 168h15.8v2h-15.8zM422.7 172h15.8v2h-15.8zM643.2 172h15.8v2h-15.8zM359.7 176h15.8v2h-15.8zM1037.0 178h15.8v2h-15.8zM190.0 182h12.2v2h-12.2zM785.0 184h15.8v2h-15.8zM769.2 188h15.8v2h-15.8zM643.2 192h15.8v2h-15.8zM202.2 202h15.8v2h-15.8zM280.9 204h15.8v2h-15.8zM265.2 208h15.8v2h-15.8zM706.2 208h31.5v2h-31.5zM296.7 210h15.8v2h-15.8zM190.0 214h12.2v2h-12.2zM249.4 214h15.8v2h-15.8zM375.4 214h15.8v2h-15.8zM202.2 222h15.8v2h-15.8zM690.5 224h15.8v2h-15.8zM375.4 228h15.8v2h-15.8zM706.2 232h15.8v2h-15.8zM296.7 236h15.8v2h-15.8zM296.7 248h15.8v2h-15.8zM328.2 248h15.8v2h-15.8zM233.7 258h15.8v2h-15.8zM690.5 262h15.8v2h-15.8zM280.9 278h15.8v2h-15.8zM312.4 280h15.8v2h-15.8zM328.2 282h47.2v2h-47.2zM359.7 290h15.8v2h-15.8zM737.7 296h15.8v2h-15.8zM233.7 306h15.8v2h-15.8zM265.2 306h15.8v2h-15.8zM343.9 306h15.8v2h-15.8zM722.0 308h15.8v2h-15.8zM706.2 322h15.8v2h-15.8zM737.7 322h15.8v2h-15.8zM328.2 330h15.8v2h-15.8zM737.7 330h15.8v2h-15.8zM312.4 348h15.8v2h-15.8zM296.7 352h15.8v2h-15.8zM328.2 360h15.8v2h-15.8zM312.4 378h15.8v2h-15.8zM769.2 396h15.8v2h-15.8zM958.2 396h15.8v2h-15.8zM816.5 444h15.8v2h-15.8zM800.7 476h15.8v2h-15.8zM800.7 482h15.8v2h-15.8zM816.5 526h15.8v2h-15.8zM832.2 554h31.5v2h-31.5zM879.5 642h15.8v2h-15.8zM926.7 774h15.8v2h-15.8z"/>
<path fill="rgb(0,80,255)" d="M769.2 88h31.5v2h-31.5zM816.5 88h15.8v2h-15.8zM280.9 90h31.5v2h-31.5zM438.4 90h15.8v2h-15.8zM501.4 90h15.8v2h-15.8zM800.7 90h15.8v2h-15.8zM706.2 94h15.8v2h-15.8zM800.7 94h15.8v2h-15.8zM328.2 96h15.8v2h-15.8zM359.7 96h15.8v2h-15.8zM564.5 96h15.8v2h-15.8zM564.5 102h15.8v2h-15.8zM596.0 102h15.8v2h-15.8zM391.2 104h15.8v2h-15.8zM312.4 106h15.8v2h-15.8zM422.7 106h15.8v2h-15.8zM737.7 114h31.5v2h-31.5zM485.7 120h15.8v2h-15.8zM596.0 126h15.8v2h-15.8zM659.0 132h31.5v2h-31.5zM280.9 136h15.8v2h-15.8zM832.2 136h15.8v2h-15.8zM722.0 138h31.5v2h-31.5zM816.5 138h15.8v2h-15.8zM249.4 150h15.8v2h-15.8zM580.2 150h31.5v2h-31.5zM659.0 154h15.8v2h-15.8zM722.0 158h15.8v2h-15.8zM737.7 160h15.8v2h-15.8zM737.7 164h47.2v2h-47.2zM753.5 166h15.8v2h-15.8zM548.7 168h15.8v2h-15.8zM769.2 170h15.8v2h-15.8zM375.4 182h15.8v2h-15.8zM406.9 182h15.8v2h-15.8zM674.7 192h15.8v2h-15.8zM596.0 194h15.8v2h-15.8zM265.2 202h15.8v2h-15.8zM643.2 202h15.8v2h-15.8zM706.2 202h15.8v2h-15.8zM722.0 212h15.8v2h-15.8zM391.2 214h15.8v2h-15.8zM659.0 214h15.8v2h-15.8zM202.2 216h15.8v2h-15.8zM722.0 224h15.8v2h-15.8zM217.9 230h15.8v2h-15.8zM375.4 234h15.8v2h-15.8zM359.7 238h15.8v2h-15.8zM280.9 240h15.8v2h-15.8zM217.9 252h15.8v2h-15.8zM659.0 256h15.8v2h-15.8zM706.2 262h31.5v2h-31.5zM217.9 268h15.8v2h-15.8zM265.2 268h15.8v2h-15.8zM375.4 270h15.8v2h-15.8zM249.4 276h15.8v2h-15.8zM312.4 276h15.8v2h-15.8zM722.0 282h15.8v2h-15.8zM359.7 294h15.8v2h-15.8zM249.4 296h15.8v2h-15.8zM674.7 296h15.8v2h-15.8zM706.2 296h15.8v2h-15.8zM359.7 302h15.8v2h-15.8zM706.2 308h15.8v2h-15.8zM280.9 310h15.8v2h-15.8zM296.7 314h15.8v2h-15.8zM265.2 320h15.8v2h-15.8zM265.2 322h15.8v2h-15.8zM674.7 342h15.8v2h-15.8zM722.0 350h15.8v2h-15.8zM753.5 350h15.8v2h-15.8zM785.0 384h15.8v2h-15.8zM312.4 400h15.8v2h-15.8zM328.2 416h15.8v2h-15.8zM800.7 424h15.8v2h-15.8zM328.2 426h15.8v2h-15.8zM312.4 434h15.8v2h-15.8zM785.0 440h15.8v2h-15.8zM816.5 486h15.8v2h-15.8zM832.2 518h15.8v2h-15.8zM816.5 538h15.8v2h-15.8zM816.5 552h15.8v2h-15.8zM832.2 558h15.8v2h-15.8zM863.7 566h15.8v2h-15.8zM832.2 588h15.8v2h-15.8zM879.5 682h15.8v2h-15.8zM895.2 698h15.8v2h-15.8zM895.2 718h15.8v2h-15.8zM926.7 758h15.8v2h-15.8zM942.5 776h15.8v2h-15.8z"/>
<path fill="rgb(0,48,255)" d="M800.7 88h15.8v2h-15.8zM863.7 88h15.8v2h-15.8zM690.5 94h15.8v2h-15.8zM816.5 94h15.8v2h-15.8zM469.9 96h15.8v2h-15.8zM548.7 96h15.8v2h-15.8zM548.7 98h15.8v2h-15.8zM674.7 98h15.8v2h-15.8zM454.2 100h15.8v2h-15.8zM485.7 100h15.8v2h-15.8zM848.0 100h15.8v2h-15.8zM312.4 102h15.8v2h-15.8zM501.4 102h15.8v2h-15.8zM533.0 102h15.8v2h-15.8zM596.0 104h15.8v2h-15.8zM249.4 108h15.8v2h-15.8zM343.9 108h15.8v2h-15.8zM375.4 108h15.8v2h-15.8zM438.4 110h15.8v2h-15.8zM564.5 110h15.8v2h-15.8zM722.0 112h15.8v2h-15.8zM438.4 114h15.8v2h-15.8zM643.2 114h15.8v2h-15.8zM785.0 118h31.5v2h-31.5zM328.2 120h15.8v2h-15.8zM265.2 122h15.8v2h-15.8zM722.0 122h15.8v2h-15.8zM501.4 126h15.8v2h-15.8zM596.0 128h15.8v2h-15.8zM406.9 130h15.8v2h-15.8zM706.2 130h15.8v2h-15.8zM280.9 132h15.8v2h-15.8zM548.7 134h15.8v2h-15.8zM706.2 136h15.8v2h-15.8zM659.0 140h15.8v2h-15.8zM296.7 142h15.8v2h-15.8zM611.7 142h15.8v2h-15.8zM753.5 148h15.8v2h-15.8zM674.7 150h15.8v2h-15.8zM611.7 154h15.8v2h-15.8zM769.2 156h15.8v2h-15.8zM533.0 158h15.8v2h-15.8zM769.2 158h15.8v2h-15.8zM785.0 160h15.8v2h-15.8zM533.0 164h15.8v2h-15.8zM375.4 170h15.8v2h-15.8zM438.4 172h15.8v2h-15.8zM627.5 172h15.8v2h-15.8zM485.7 174h15.8v2h-15.8zM517.2 174h15.8v2h-15.8zM312.4 176h15.8v2h-15.8zM422.7 176h15.8v2h-15.8zM454.2 176h15.8v2h-15.8zM627.5 176h15.8v2h-15.8zM202.2 188h31.5v2h-31.5zM375.4 188h15.8v2h-15.8zM706.2 190h15.8v2h-15.8zM312.4 206h15.8v2h-15.8zM659.0 208h31.5v2h-31.5zM265.2 218h15.8v2h-15.8zM659.0 234h31.5v2h-31.5zM722.0 246h15.8v2h-15.8zM627.5 250h15.8v2h-15.8zM312.4 252h15.8v2h-15.8zM674.7 256h15.8v2h-15.8zM737.7 280h15.8v2h-15.8zM343.9 284h15.8v2h-15.8zM659.0 294h15.8v2h-15.8zM265.2 298h31.5v2h-31.5zM722.0 300h15.8v2h-15.8zM312.4 302h15.8v2h-15.8zM328.2 306h15.8v2h-15.8zM312.4 312h31.5v2h-31.5zM737.7 316h15.8v2h-15.8zM659.0 322h15.8v2h-15.8zM674.7 326h15.8v2h-15.8zM343.9 332h15.8v2h-15.8zM343.9 334h15.8v2h-15.8zM328.2 352h15.8v2h-15.8zM265.2 364h15.8v2h-15.8zM737.7 386h15.8v2h-15.8zM296.7 390h15.8v2h-15.8zM627.5 406h15.8v2h-15.8zM769.2 416h15.8v2h-15.8zM343.9 432h15.8v2h-15.8zM296.7 436h15.8v2h-15.8zM832.2 496h15.8v2h-15.8zM848.0 518h15.8v2h-15.8zM895.2 676h31.5v2h-31.5zM895.2 704h15.8v2h-15.8zM926.7 764h15.8v2h-15.8zM926.7 768h15.8v2h-15.8z"/>
<path fill="rgb(0,8,255)" d="M265.2 90h15.8v2h-15.8zM190.0 92h12.2v2h-12.2zM202.2 104h15.8v2h-15.8zM1084.2 110h15.8v2h-15.8zM454.2 112h15.8v2h-15.8zM375.4 118h15.8v2h-15.8zM391.2 120h31.5v2h-31.5zM737.7 124h15.8v2h-15.8zM816.5 142h31.5v2h-31.5zM785.0 144h15.8v2h-15.8zM706.2 146h15.8v2h-15.8zM942.5 152h15.8v2h-15.8zM974.0 152h15.8v2h-15.8zM249.4 154h15.8v2h-15.8zM469.9 158h15.8v2h-15.8zM596.0 164h15.8v2h-15.8zM674.7 164h15.8v2h-15.8zM785.0 168h15.8v2h-15.8zM485.7 172h15.8v2h-15.8zM816.5 172h15.8v2h-15.8zM438.4 176h15.8v2h-15.8zM469.9 176h15.8v2h-15.8zM659.0 176h15.8v2h-15.8zM217.9 178h15.8v2h-15.8zM265.2 182h15.8v2h-15.8zM375.4 190h15.8v2h-15.8zM564.5 192h31.5v2h-31.5zM438.4 194h15.8v2h-15.8zM564.5 200h15.8v2h-15.8zM674.7 226h15.8v2h-15.8zM328.2 234h15.8v2h-15.8zM438.4 250h15.8v2h-15.8zM989.7 260h15.8v2h-15.8zM1084.2 262h15.8v2h-15.8zM627.5 266h15.8v2h-15.8zM659.0 266h15.8v2h-15.8zM438.4 268h15.8v2h-15.8zM911.0 272h15.8v2h-15.8zM296.7 274h15.8v2h-15.8zM674.7 302h15.8v2h-15.8zM359.7 312h15.8v2h-15.8zM190.0 368h12.2v2h-12.2zM769.2 370h15.8v2h-15.8zM722.0 372h15.8v2h-15.8zM800.7 374h15.8v2h-15.8zM659.0 382h15.8v2h-15.8zM785.0 386h15.8v2h-15.8zM643.2 422h15.8v2h-15.8zM627.5 432h15.8v2h-15.8zM659.0 442h15.8v2h-15.8zM785.0 464h15.8v2h-15.8zM816.5 468h15.8v2h-15.8zM785.0 496h15.8v2h-15.8zM816.5 496h15.8v2h-15.8zM989.7 520h15.8v2h-15.8zM832.2 562h15.8v2h-15.8zM832.2 586h15.8v2h-15.8zM863.7 592h15.8v2h-15.8zM848.0 602h31.5v2h-31.5zM895.2 736h15.8v2h-15.8zM926.7 744h15.8v2h-15.8z"/>
<path fill="rgb(0,104,255)" d="M643.2 90h15.8v2h-15.8zM627.5 96h15.8v2h-15.8zM375.4 98h15.8v2h-15.8zM406.9 100h15.8v2h-15.8zM674.7 100h15.8v2h-15.8zM328.2 104h15.8v2h-15.8zM769.2 110h15.8v2h-15.8zM580.2 120h15.8v2h-15.8zM343.9 126h31.5v2h-31.5zM280.9 130h15.8v2h-15.8zM722.0 132h15.8v2h-15.8zM265.2 136h15.8v2h-15.8zM422.7 174h15.8v2h-15.8zM217.9 180h15.8v2h-15.8zM391.2 180h15.8v2h-15.8zM611.7 182h15.8v2h-15.8zM190.0 184h12.2v2h-12.2zM627.5 196h15.8v2h-15.8zM296.7 238h15.8v2h-15.8zM217.9 248h15.8v2h-15.8zM265.2 248h15.8v2h-15.8zM249.4 268h15.8v2h-15.8zM233.7 272h15.8v2h-15.8zM265.2 272h15.8v2h-15.8zM690.5 296h15.8v2h-15.8zM249.4 306h15.8v2h-15.8zM737.7 354h15.8v2h-15.8zM328.2 364h15.8v2h-15.8zM280.9 410h31.5v2h-31.5zM296.7 418h15.8v2h-15.8zM280.9 428h15.8v2h-15.8zM816.5 480h15.8v2h-15.8zM832.2 522h15.8v2h-15.8zM800.7 538h15.8v2h-15.8zM848.0 606h15.8v2h-15.8zM863.7 610h15.8v2h-15.8z"/>
<path fill="rgb(0,168,255)" d="M202.2 94h15.8v2h-15.8zM564.5 100h15.8v2h-15.8zM202.2 110h15.8v2h-15.8zM580.2 114h15.8v2h-15.8zM769.2 116h15.8v2h-15.8zM564.5 136h15.8v2h-15.8zM769.2 136h15.8v2h-15.8zM280.9 190h15.8v2h-15.8zM217.9 198h15.8v2h-15.8zM217.9 202h15.8v2h-15.8zM202.2 242h15.8v2h-15.8zM233.7 246h15.8v2h-15.8zM659.0 252h15.8v2h-15.8zM249.4 254h15.8v2h-15.8zM265.2 262h15.8v2h-15.8zM706.2 292h15.8v2h-15.8zM722.0 344h15.8v2h-15.8zM296.7 356h15.8v2h-15.8zM785.0 410h15.8v2h-15.8zM800.7 510h15.8v2h-15.8zM848.0 556h15.8v2h-15.8zM863.7 570h15.8v2h-15.8zM863.7 590h15.8v2h-15.8z"/>
<path fill="rgb(0,232,255)" d="M217.9 94h15.8v2h-15.8zM769.2 94h15.8v2h-15.8zM659.0 110h15.8v2h-15.8zM233.7 144h15.8v2h-15.8zM233.7 160h15.8v2h-15.8zM233.7 164h15.8v2h-15.8zM233.7 166h15.8v2h-15.8zM202.2 170h15.8v2h-15.8zM217.9 234h15.8v2h-15.8zM690.5 256h15.8v2h-15.8zM690.5 258h15.8v2h-15.8zM785.0 408h15.8v2h-15.8zM785.0 424h15.8v2h-15.8zM769.2 428h15.8v2h-15.8zM769.2 430h15.8v2h-15.8zM816.5 522h15.8v2h-15.8zM816.5 536h15.8v2h-15.8zM863.7 578h15.8v2h-15.8zM895.2 714h15.8v2h-15.8z"/>
<path fill="rgb(0,0,216)" d="M202.2 96h15.8v2h-15.8zM233.7 98h15.8v2h-15.8zM359.7 100h15.8v2h-15.8zM753.5 102h15.8v2h-15.8zM706.2 108h15.8v2h-15.8zM753.5 128h15.8v2h-15.8zM190.0 134h12.2v2h-12.2zM832.2 140h15.8v2h-15.8zM1021.2 146h15.8v2h-15.8zM217.9 148h15.8v2h-15.8zM190.0 152h12.2v2h-12.2zM233.7 156h15.8v2h-15.8zM391.2 158h15.8v2h-15.8zM422.7 160h15.8v2h-15.8zM469.9 172h15.8v2h-15.8zM328.2 188h15.8v2h-15.8zM469.9 188h15.8v2h-15.8zM643.2 190h15.8v2h-15.8zM202.2 206h15.8v2h-15.8zM548.7 206h15.8v2h-15.8zM217.9 218h15.8v2h-15.8zM1052.7 218h31.5v2h-31.5zM785.0 220h15.8v2h-15.8zM674.7 240h15.8v2h-15.8zM674.7 246h15.8v2h-15.8zM926.7 250h15.8v2h-15.8zM989.7 256h15.8v2h-15.8zM249.4 270h15.8v2h-15.8zM958.2 272h15.8v2h-15.8zM312.4 304h15.8v2h-15.8zM769.2 342h15.8v2h-15.8zM190.0 352h12.2v2h-12.2zM895.2 374h15.8v2h-15.8zM359.7 380h15.8v2h-15.8zM643.2 380h15.8v2h-15.8zM958.2 384h15.8v2h-15.8zM942.5 386h15.8v2h-15.8zM190.0 396h12.2v2h-12.2zM753.5 416h15.8v2h-15.8zM753.5 422h15.8v2h-15.8zM643.2 446h15.8v2h-15.8zM832.2 528h15.8v2h-15.8zM848.0 564h15.8v2h-15.8zM848.0 596h15.8v2h-15.8zM879.5 654h15.8v2h-15.8zM942.5 772h15.8v2h-15.8z"/>
<path fill="rgb(0,208,255)" d="M233.7 96h15.8v2h-15.8zM564.5 104h15.8v2h-15.8zM190.0 106h27.9v2h-27.9zM190.0 110h12.2v2h-12.2zM202.2 112h15.8v2h-15.8zM596.0 114h15.8v2h-15.8zM753.5 116h15.8v2h-15.8zM217.9 124h15.8v2h-15.8zM202.2 130h15.8v2h-15.8zM233.7 140h15.8v2h-15.8zM217.9 220h31.5v2h-31.5zM217.9 240h15.8v2h-15.8zM690.5 244h15.8v2h-15.8zM722.0 288h15.8v2h-15.8zM296.7 300h15.8v2h-15.8zM753.5 402h15.8v2h-15.8zM753.5 404h15.8v2h-15.8zM753.5 420h15.8v2h-15.8zM785.0 428h15.8v2h-15.8zM800.7 490h15.8v2h-15.8zM785.0 518h15.8v2h-15.8z"/>
<path fill="rgb(0,24,255)" d="M485.7 96h15.8v2h-15.8zM863.7 104h15.8v2h-15.8zM469.9 110h15.8v2h-15.8zM1052.7 110h15.8v2h-15.8zM485.7 112h15.8v2h-15.8zM863.7 112h15.8v2h-15.8zM280.9 124h15.8v2h-15.8zM580.2 132h15.8v2h-15.8zM328.2 138h15.8v2h-15.8zM659.0 138h15.8v2h-15.8zM280.9 140h15.8v2h-15.8zM643.2 164h15.8v2h-15.8zM800.7 168h15.8v2h-15.8zM359.7 170h15.8v2h-15.8zM391.2 170h15.8v2h-15.8zM643.2 176h15.8v2h-15.8zM202.2 180h15.8v2h-15.8zM596.0 180h15.8v2h-15.8zM359.7 190h15.8v2h-15.8zM438.4 190h15.8v2h-15.8zM359.7 192h15.8v2h-15.8zM422.7 194h15.8v2h-15.8zM391.2 220h15.8v2h-15.8zM958.2 244h15.8v2h-15.8zM359.7 254h15.8v2h-15.8zM280.9 260h15.8v2h-15.8zM706.2 266h15.8v2h-15.8zM328.2 270h15.8v2h-15.8zM296.7 278h15.8v2h-15.8zM296.7 308h15.8v2h-15.8zM359.7 332h15.8v2h-15.8zM359.7 334h15.8v2h-15.8zM312.4 354h15.8v2h-15.8zM926.7 372h15.8v2h-15.8zM280.9 378h15.8v2h-15.8zM800.7 394h15.8v2h-15.8zM280.9 426h15.8v2h-15.8zM800.7 496h15.8v2h-15.8zM816.5 544h31.5v2h-31.5zM863.7 576h15.8v2h-15.8zM848.0 600h15.8v2h-15.8zM863.7 648h15.8v2h-15.8zM895.2 692h15.8v2h-15.8zM911.0 720h15.8v2h-15.8z"/>
<path fill="rgb(0,0,224)" d="M848.0 96h15.8v2h-15.8zM895.2 100h15.8v2h-15.8zM233.7 104h15.8v2h-15.8zM753.5 110h15.8v2h-15.8zM690.5 118h15.8v2h-15.8zM391.2 134h31.5v2h-31.5zM911.0 138h31.5v2h-31.5zM816.5 140h15.8v2h-15.8zM359.7 142h15.8v2h-15.8zM233.7 154h15.8v2h-15.8zM485.7 154h15.8v2h-15.8zM359.7 156h15.8v2h-15.8zM391.2 156h15.8v2h-15.8zM406.9 160h15.8v2h-15.8zM832.2 176h15.8v2h-15.8zM202.2 178h15.8v2h-15.8zM1005.5 178h15.8v2h-15.8zM202.2 190h15.8v2h-15.8zM659.0 190h15.8v2h-15.8zM895.2 190h15.8v2h-15.8zM202.2 198h15.8v2h-15.8zM391.2 218h15.8v2h-15.8zM596.0 226h15.8v2h-15.8zM217.9 232h15.8v2h-15.8zM217.9 238h15.8v2h-15.8zM690.5 242h15.8v2h-15.8zM879.5 244h15.8v2h-15.8zM911.0 244h31.5v2h-31.5zM974.0 256h15.8v2h-15.8zM800.7 258h15.8v2h-15.8zM1052.7 306h15.8v2h-15.8zM296.7 332h15.8v2h-15.8zM926.7 368h15.8v2h-15.8zM643.2 374h15.8v2h-15.8zM879.5 374h15.8v2h-15.8zM643.2 376h15.8v2h-15.8zM674.7 376h15.8v2h-15.8zM627.5 380h15.8v2h-15.8zM942.5 384h15.8v2h-15.8zM343.9 388h15.8v2h-15.8zM249.4 412h15.8v2h-15.8zM942.5 434h15.8v2h-15.8zM785.0 456h15.8v2h-15.8zM832.2 474h15.8v2h-15.8zM800.7 488h15.8v2h-15.8zM800.7 502h15.8v2h-15.8zM816.5 512h15.8v2h-15.8zM832.2 538h15.8v2h-15.8zM816.5 546h15.8v2h-15.8zM769.2 562h15.8v2h-15.8zM737.7 564h15.8v2h-15.8zM832.2 564h15.8v2h-15.8z"/>
<path fill="rgb(0,0,232)" d="M879.5 100h15.8v2h-15.8zM406.9 112h15.8v2h-15.8zM485.7 128h15.8v2h-15.8zM974.0 128h15.8v2h-15.8zM517.2 166h15.8v2h-15.8zM233.7 170h15.8v2h-15.8zM769.2 176h15.8v2h-15.8zM469.9 182h15.8v2h-15.8zM501.4 182h15.8v2h-15.8zM202.2 184h15.8v2h-15.8zM627.5 200h15.8v2h-15.8zM753.5 208h15.8v2h-15.8zM454.2 210h15.8v2h-15.8zM785.0 216h15.8v2h-15.8zM627.5 218h15.8v2h-15.8zM895.2 244h15.8v2h-15.8zM785.0 258h15.8v2h-15.8zM454.2 268h15.8v2h-15.8zM674.7 272h15.8v2h-15.8zM706.2 310h15.8v2h-15.8zM249.4 314h15.8v2h-15.8zM217.9 352h15.8v2h-15.8zM942.5 368h15.8v2h-15.8zM659.0 376h15.8v2h-15.8zM375.4 380h15.8v2h-15.8zM564.5 386h15.8v2h-15.8zM643.2 386h15.8v2h-15.8zM958.2 386h15.8v2h-15.8zM643.2 392h31.5v2h-31.5zM265.2 412h15.8v2h-15.8zM753.5 412h15.8v2h-15.8zM926.7 434h15.8v2h-15.8zM785.0 436h15.8v2h-15.8zM800.7 478h15.8v2h-15.8zM926.7 736h15.8v2h-15.8z"/>
<path fill="rgb(0,0,208)" d="M848.0 102h15.8v2h-15.8zM190.0 108h12.2v2h-12.2zM690.5 108h15.8v2h-15.8zM548.7 114h15.8v2h-15.8zM190.0 116h12.2v2h-12.2zM958.2 122h15.8v2h-15.8zM190.0 124h12.2v2h-12.2zM469.9 146h15.8v2h-15.8zM375.4 160h31.5v2h-31.5zM879.5 184h15.8v2h-15.8zM485.7 188h15.8v2h-15.8zM722.0 192h15.8v2h-15.8zM564.5 206h15.8v2h-15.8zM690.5 236h31.5v2h-31.5zM706.2 240h15.8v2h-15.8zM674.7 248h15.8v2h-15.8zM469.9 264h31.5v2h-31.5zM690.5 264h15.8v2h-15.8zM233.7 266h15.8v2h-15.8zM438.4 280h15.8v2h-15.8zM722.0 294h15.8v2h-15.8zM233.7 312h15.8v2h-15.8zM722.0 336h15.8v2h-15.8zM328.2 348h15.8v2h-15.8zM627.5 352h15.8v2h-15.8zM753.5 374h15.8v2h-15.8zM832.2 382h15.8v2h-15.8zM375.4 394h15.8v2h-15.8zM548.7 398h15.8v2h-15.8zM911.0 424h15.8v2h-15.8zM785.0 446h15.8v2h-15.8zM785.0 454h15.8v2h-15.8zM800.7 498h15.8v2h-15.8zM816.5 502h15.8v2h-15.8zM832.2 548h15.8v2h-15.8zM832.2 550h15.8v2h-15.8zM753.5 564h31.5v2h-31.5zM832.2 572h15.8v2h-15.8zM848.0 604h15.8v2h-15.8zM863.7 630h15.8v2h-15.8z"/>
<path fill="rgb(0,248,255)" d="M217.9 104h15.8v2h-15.8zM190.0 112h12.2v2h-12.2zM202.2 140h15.8v2h-15.8zM233.7 148h15.8v2h-15.8zM217.9 166h15.8v2h-15.8zM265.2 206h15.8v2h-15.8zM233.7 214h15.8v2h-15.8zM249.4 318h15.8v2h-15.8zM785.0 412h15.8v2h-15.8zM816.5 516h15.8v2h-15.8zM832.2 536h15.8v2h-15.8z"/>
<path fill="rgb(32,255,216)" d="M785.0 104h15.8v2h-15.8z"/>
<path fill="rgb(8,255,248)" d="M217.9 106h15.8v2h-15.8zM233.7 202h15.8v2h-15.8zM690.5 248h15.8v2h-15.8zM769.2 404h15.8v2h-15.8zM769.2 424h15.8v2h-15.8zM753.5 428h15.8v2h-15.8zM832.2 500h15.8v2h-15.8zM832.2 514h15.8v2h-15.8z"/>
<path fill="rgb(112,255,144)" d="M202.2 108h15.8v2h-15.8zM202.2 156h15.8v2h-15.8z"/>
<path fill="rgb(0,200,255)" d="M217.9 110h15.8v2h-15.8zM722.0 196h15.8v2h-15.8zM690.5 210h15.8v2h-15.8zM233.7 222h15.8v2h-15.8zM706.2 244h15.8v2h-15.8zM690.5 260h15.8v2h-15.8zM722.0 270h15.8v2h-15.8zM265.2 304h15.8v2h-15.8zM785.0 420h15.8v2h-15.8zM753.5 424h15.8v2h-15.8zM800.7 442h15.8v2h-15.8zM800.7 444h15.8v2h-15.8zM800.7 492h15.8v2h-15.8zM832.2 530h15.8v2h-15.8z"/>
<path fill="rgb(200,200,120)" d="M312.4 114h15.8v2h-15.8z"/>
<path fill="rgb(224,216,144)" d="M328.2 114h31.5v2h-31.5z"/>
<path fill="rgb(200,192,152)" d="M359.7 114h15.8v2h-15.8z"/>
<path fill="rgb(255,96,0)" d="M312.4 116h15.8v2h-15.8z"/>
<path fill="rgb(160,0,0)" d="M328.2 116h31.5v2h-31.5z"/>
<path fill="rgb(255,16,0)" d="M359.7 116h15.8v2h-15.8z"/>
<path fill="rgb(80,255,176)" d="M375.4 116h15.8v2h-15.8zM217.9 150h15.8v2h-15.8zM800.7 518h15.8v2h-15.8z"/>
<path fill="rgb(64,255,192)" d="M190.0 118h12.2v2h-12.2zM217.9 204h15.8v2h-15.8z"/>
<path fill="rgb(120,255,136)" d="M202.2 118h15.8v2h-15.8z"/>
<path fill="rgb(0,192,200)" d="M312.4 118h15.8v2h-15.8z"/>
<path fill="rgb(0,88,64)" d="M328.2 118h31.5v2h-31.5z"/>
<path fill="rgb(0,64,232)" d="M359.7 118h15.8v2h-15.8z"/>
<path fill="rgb(0,255,255)" d="M202.2 120h15.8v2h-15.8zM233.7 120h15.8v2h-15.8zM265.2 222h15.8v2h-15.8zM233.7 224h15.8v2h-15.8zM722.0 256h15.8v2h-15.8zM265.2 258h15.8v2h-15.8z"/>
<path fill="rgb(56,255,200)" d="M190.0 122h12.2v2h-12.2zM233.7 204h15.8v2h-15.8zM233.7 206h15.8v2h-15.8z"/>
<path fill="rgb(24,255,224)" d="M190.0 126h12.2v2h-12.2zM706.2 204h15.8v2h-15.8zM832.2 582h15.8v2h-15.8z"/>
<path fill="rgb(48,255,200)" d="M753.5 132h15.8v2h-15.8z"/>
<path fill="rgb(40,255,216)" d="M202.2 150h15.8v2h-15.8z"/>
<path fill="rgb(40,255,208)" d="M217.9 156h15.8v2h-15.8z"/>
<path fill="rgb(48,255,208)" d="M202.2 160h15.8v2h-15.8zM249.4 226h15.8v2h-15.8zM769.2 408h15.8v2h-15.8zM785.0 414h15.8v2h-15.8zM816.5 518h15.8v2h-15.8zM848.0 576h15.8v2h-15.8z"/>
<path fill="rgb(72,255,176)" d="M217.9 160h15.8v2h-15.8z"/>
<path fill="rgb(0,240,255)" d="M217.9 162h15.8v2h-15.8zM217.9 170h15.8v2h-15.8zM249.4 180h15.8v2h-15.8zM690.5 204h15.8v2h-15.8zM233.7 298h31.5v2h-31.5zM769.2 418h15.8v2h-15.8zM800.7 458h15.8v2h-15.8zM800.7 462h15.8v2h-15.8zM832.2 560h15.8v2h-15.8zM848.0 582h15.8v2h-15.8z"/>
<path fill="rgb(16,255,232)" d="M217.9 164h15.8v2h-15.8zM233.7 212h15.8v2h-15.8zM769.2 412h15.8v2h-15.8z"/>
<path fill="rgb(24,255,232)" d="M233.7 174h15.8v2h-15.8zM249.4 212h15.8v2h-15.8zM233.7 238h15.8v2h-15.8zM753.5 414h15.8v2h-15.8zM800.7 522h15.8v2h-15.8z"/>
<path fill="rgb(8,255,240)" d="M249.4 206h15.8v2h-15.8z"/>
<path fill="rgb(152,255,104)" d="M233.7 228h15.8v2h-15.8z"/>
<path fill="rgb(88,255,168)" d="M249.4 260h31.5v2h-31.5z"/>
<path fill="rgb(128,255,128)" d="M769.2 414h15.8v2h-15.8z"/>
<path fill="rgb(176,255,80)" d="M785.0 514h15.8v2h-15.8z"/>
<path fill="rgb(255,200,0)" d="M800.7 514h15.8v2h-15.8z"/>
<path fill="rgb(232,255,24)" d="M816.5 514h15.8v2h-15.8z"/>
<path fill="rgb(0,255,248)" d="M816.5 520h15.8v2h-15.8z"/>
</g>
<g>
<path fill="#ff0000" fill-rule="evenodd" d="M745.90 501.90H904.10V560.00H745.90Z M750.10 505.30H899.90V556.60H750.10Z"/>
<path fill="#00ff00" fill-rule="evenodd" d="M744.90 481.10H904.10V541.20H744.90Z M749.10 484.50H899.90V537.80H749.10Z"/>
<path fill="#ff00ff" fill-rule="evenodd" d="M497.90 180.80H656.10V238.50H497.90Z M502.10 184.20H651.90V235.10H502.10Z"/>
<path fill="#ffff00" fill-rule="evenodd" d="M758.40 483.00H917.80V541.20H758.40Z M762.60 486.40H913.60V537.80H762.60Z"/>
<path fill="#00ffff" fill-rule="evenodd" d="M615.90 209.80H774.10V268.90H615.90Z M620.10 213.20H769.90V265.50H620.10Z"/>
</g>
<g stroke="#262626" stroke-width="2.8" fill="none">
<rect x="188.5" y="85.5" width="914" height="720"/>
<line x1="417.0" y1="805.5" x2="417.0" y2="795.5"/>
<line x1="417.0" y1="85.5" x2="417.0" y2="95.5"/>
<line x1="645.5" y1="805.5" x2="645.5" y2="795.5"/>
<line x1="645.5" y1="85.5" x2="645.5" y2="95.5"/>
<line x1="874.0" y1="805.5" x2="874.0" y2="795.5"/>
<line x1="874.0" y1="85.5" x2="874.0" y2="95.5"/>
<line x1="188.5" y1="145.5" x2="198.5" y2="145.5"/>
<line x1="1102.5" y1="145.5" x2="1092.5" y2="145.5"/>
<line x1="188.5" y1="265.5" x2="198.5" y2="265.5"/>
<line x1="1102.5" y1="265.5" x2="1092.5" y2="265.5"/>
<line x1="188.5" y1="385.5" x2="198.5" y2="385.5"/>
<line x1="1102.5" y1="385.5" x2="1092.5" y2="385.5"/>
<line x1="188.5" y1="505.5" x2="198.5" y2="505.5"/>
<line x1="1102.5" y1="505.5" x2="1092.5" y2="505.5"/>
<line x1="188.5" y1="625.5" x2="198.5" y2="625.5"/>
<line x1="1102.5" y1="625.5" x2="1092.5" y2="625.5"/>
<line x1="188.5" y1="745.5" x2="198.5" y2="745.5"/>
<line x1="1102.5" y1="745.5" x2="1092.5" y2="745.5"/>
</g>
<text transform="translate(640.3,66.9) scale(1,1.04)" font-size="59" text-anchor="middle" fill="#000" stroke="#fff" stroke-width="0.9">Maneuvering Target</text>
<text transform="translate(176.5,167.4) scale(1,1.065)" font-size="55" text-anchor="end" fill="#1a1a1a" stroke="#fff" stroke-width="0.9">240</text>
<text transform="translate(176.5,287.4) scale(1,1.065)" font-size="55" text-anchor="end" fill="#1a1a1a" stroke="#fff" stroke-width="0.9">260</text>
<text transform="translate(176.5,407.4) scale(1,1.065)" font-size="55" text-anchor="end" fill="#1a1a1a" stroke="#fff" stroke-width="0.9">280</text>
<text transform="translate(176.5,527.4) scale(1,1.065)" font-size="55" text-anchor="end" fill="#1a1a1a" stroke="#fff" stroke-width="0.9">300</text>
<text transform="translate(176.5,647.4) scale(1,1.065)" font-size="55" text-anchor="end" fill="#1a1a1a" stroke="#fff" stroke-width="0.9">320</text>
<text transform="translate(176.5,767.4) scale(1,1.065)" font-size="55" text-anchor="end" fill="#1a1a1a" stroke="#fff" stroke-width="0.9">340</text>
<text transform="translate(416.9,869.7) scale(1,1.06)" font-size="55" text-anchor="middle" fill="#1a1a1a" stroke="#fff" stroke-width="0.9">160</text>
<text transform="translate(644.5,869.7) scale(1,1.06)" font-size="55" text-anchor="middle" fill="#1a1a1a" stroke="#fff" stroke-width="0.9">180</text>
<text transform="translate(872.4,869.7) scale(1,1.06)" font-size="55" text-anchor="middle" fill="#1a1a1a" stroke="#fff" stroke-width="0.9">200</text>
<text transform="translate(1099.8,869.7) scale(1,1.06)" font-size="55" text-anchor="middle" fill="#1a1a1a" stroke="#fff" stroke-width="0.9">220</text>
<text transform="translate(642.8,935.6) scale(1,1.03)" font-size="59" text-anchor="middle" fill="#1a1a1a" stroke="#fff" stroke-width="0.9">Angle (°)</text>
<text transform="translate(67.3,446.5) rotate(-90) scale(1,1.034)" font-size="59" text-anchor="middle" fill="#1a1a1a" stroke="#fff" stroke-width="0.9">Distance (m)</text>
<rect x="224" y="429" width="518" height="341.5" fill="#fff" stroke="#262626" stroke-width="2.5"/>
<line x1="243.5" y1="469.6" x2="444.5" y2="469.6" stroke="#ff0000" stroke-width="7.5"/>
<line x1="243.5" y1="534.4" x2="444.5" y2="534.4" stroke="#00ff00" stroke-width="7.5"/>
<line x1="243.5" y1="599.4" x2="444.5" y2="599.4" stroke="#ff00ff" stroke-width="7.5"/>
<line x1="243.5" y1="664.4" x2="444.5" y2="664.4" stroke="#ffff00" stroke-width="7.5"/>
<line x1="243.5" y1="729.3" x2="444.5" y2="729.3" stroke="#00ffff" stroke-width="7.5"/>
<text transform="translate(456.4,491.5) scale(1.005,1.09)" font-size="54" fill="#000" stroke="#fff" stroke-width="0.9">True target</text>
<text transform="translate(456.4,556.3) scale(1.005,1.09)" font-size="54" fill="#000" stroke="#fff" stroke-width="0.9">IMKCF</text>
<text transform="translate(456.4,621.3) scale(1.005,1.09)" font-size="54" fill="#000" stroke="#fff" stroke-width="0.9">MKCF</text>
<text transform="translate(456.4,686.3) scale(1.005,1.09)" font-size="54" fill="#000" stroke="#fff" stroke-width="0.9">IMF-KCF</text>
<text transform="translate(456.4,751.2) scale(1.005,1.09)" font-size="54" fill="#000" stroke="#fff" stroke-width="0.9">MF-KCF</text>
</svg>
</body></html>
